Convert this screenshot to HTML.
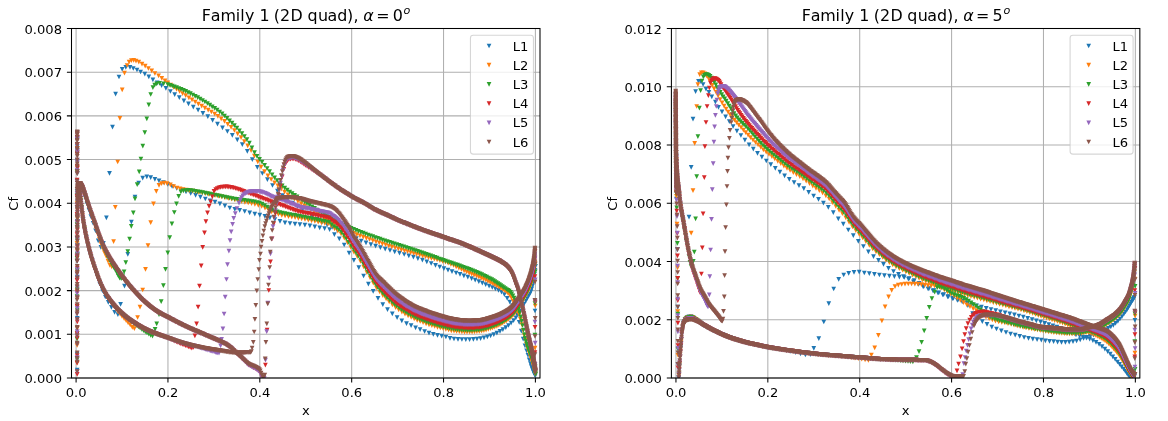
<!DOCTYPE html>
<html lang="en"><head><meta charset="utf-8"><title>Family 1 (2D quad) Cf</title>
<style>html,body{margin:0;padding:0;background:#fff}svg{display:block}text{font-family:'DejaVu Sans','Liberation Sans',sans-serif;fill:#000}</style></head><body>
<svg width="1168" height="421" viewBox="0 0 1168 421">
<rect width="1168" height="421" fill="#fff"/>
<defs>
<marker id="m0" markerUnits="userSpaceOnUse" markerWidth="8" markerHeight="8" refX="4" refY="4" viewBox="0 0 8 8" orient="0" overflow="visible"><path d="M1.65 1.65H6.35L4 6.35Z" fill="#1f77b4"/></marker>
<marker id="m1" markerUnits="userSpaceOnUse" markerWidth="8" markerHeight="8" refX="4" refY="4" viewBox="0 0 8 8" orient="0" overflow="visible"><path d="M1.65 1.65H6.35L4 6.35Z" fill="#ff7f0e"/></marker>
<marker id="m2" markerUnits="userSpaceOnUse" markerWidth="8" markerHeight="8" refX="4" refY="4" viewBox="0 0 8 8" orient="0" overflow="visible"><path d="M1.65 1.65H6.35L4 6.35Z" fill="#2ca02c"/></marker>
<marker id="m3" markerUnits="userSpaceOnUse" markerWidth="8" markerHeight="8" refX="4" refY="4" viewBox="0 0 8 8" orient="0" overflow="visible"><path d="M1.65 1.65H6.35L4 6.35Z" fill="#d62728"/></marker>
<marker id="m4" markerUnits="userSpaceOnUse" markerWidth="8" markerHeight="8" refX="4" refY="4" viewBox="0 0 8 8" orient="0" overflow="visible"><path d="M1.65 1.65H6.35L4 6.35Z" fill="#9467bd"/></marker>
<marker id="m5" markerUnits="userSpaceOnUse" markerWidth="8" markerHeight="8" refX="4" refY="4" viewBox="0 0 8 8" orient="0" overflow="visible"><path d="M1.65 1.65H6.35L4 6.35Z" fill="#8c564b"/></marker>
<clipPath id="c0"><rect x="71.50" y="28.50" width="468.50" height="349.50"/></clipPath>
<clipPath id="c1"><rect x="671.40" y="28.50" width="468.45" height="349.50"/></clipPath>
</defs>
<path stroke="#b0b0b0" stroke-width="1.05" fill="none" d="M76.09 28.50V378.00M167.95 28.50V378.00M259.81 28.50V378.00M351.68 28.50V378.00M443.54 28.50V378.00M535.40 28.50V378.00M71.50 378.00H540.00M71.50 334.31H540.00M71.50 290.62H540.00M71.50 246.94H540.00M71.50 203.25H540.00M71.50 159.56H540.00M71.50 115.88H540.00M71.50 72.19H540.00M71.50 28.50H540.00"/>
<g clip-path="url(#c0)" fill="none" stroke="none">
<polyline points="77.1,354.1 77.1,261.2 77.1,191.3 77.2,146.5 77.2,138.7 77.3,161.6 77.6,183.4 78.2,183.4 78.9,183.6 79.8,184.0 80.9,185.7 82.2,188.5 83.7,192.8 85.3,198.0 87.0,203.9 88.9,210.1 90.9,216.6 93.2,223.4 95.6,230.8 98.2,240.8 100.9,247.4 103.4,243.3 106.4,217.9 109.5,173.4 112.5,127.1 115.6,94.1 119.0,77.0 122.2,69.4 125.8,67.4 130.0,67.4 133.3,68.5 137.0,70.0 140.6,72.0 144.8,74.2 148.8,76.8 152.9,79.9 157.2,82.9 161.6,85.6 165.9,88.4 170.4,91.5 174.7,94.7 179.3,97.6 183.9,100.8 188.5,103.9 193.3,107.2 198.1,110.2 202.9,113.3 207.8,116.6 212.6,120.4 217.5,124.1 222.5,127.8 227.4,131.5 232.3,135.4 237.3,139.9 242.3,144.6 247.3,151.3 252.3,159.6 257.3,167.3 262.4,173.5 267.4,179.6 272.5,185.5 277.5,191.1 282.5,195.6 287.5,199.5 292.5,203.1 297.5,206.4 302.5,209.7 307.4,213.0 312.4,216.2 317.3,219.3 322.2,222.2 327.2,225.0 332.1,227.5 336.9,229.7 341.8,231.9 346.7,234.0 351.5,236.2 356.4,238.7 361.2,241.0 366.0,242.9 370.9,244.6 375.6,246.2 380.4,247.7 385.2,249.2 390.0,250.5 394.7,251.9 399.5,253.2 404.2,254.5 408.8,255.9 413.4,257.2 417.9,258.7 422.4,260.2 426.8,261.8 431.2,263.5 435.5,265.3 439.7,267.0 443.9,268.7 448.0,270.2 452.0,271.6 456.1,273.0 460.0,274.4 463.9,275.8 467.8,277.2 471.6,278.7 475.2,280.2 478.8,281.7 482.3,283.1 485.7,284.6 489.1,286.1 492.3,287.5 495.4,288.9 498.5,290.4 501.5,292.2 504.4,294.6 507.2,298.4 509.8,302.1 512.4,305.8 514.8,309.6 517.0,314.4 519.2,322.4 521.3,331.1 523.2,339.1 525.0,345.8 526.6,350.8 528.0,355.4 529.2,359.8 530.4,363.6 531.3,366.6 532.2,368.9 533.0,370.9 533.7,372.6 534.3,373.9 534.8,375.0 535.3,375.9 77.2,370.0 77.3,318.3 77.3,277.1 77.4,245.2 77.5,221.3 77.5,204.4 77.7,193.2 77.9,186.5 78.4,184.3 78.5,183.5 78.6,183.4 79.4,186.3 80.4,194.2 81.6,208.4 83.0,220.1 84.6,229.5 86.2,237.9 88.0,245.8 90.0,253.5 92.2,260.9 94.5,268.2 97.1,276.1 99.7,284.0 102.5,290.9 105.3,297.0 108.3,302.3 111.4,307.3 114.6,312.3 117.9,314.6 120.6,304.4 124.5,286.1 127.8,254.4 131.4,222.1 135.0,197.0 138.7,183.2 142.7,178.2 146.8,176.9 150.7,177.7 154.9,179.3 159.0,180.8 163.4,182.5 167.8,184.3 172.1,186.5 176.7,188.4 181.3,190.1 186.0,191.8 190.7,193.5 195.6,195.3 200.4,197.2 205.3,199.0 210.1,200.8 215.0,202.1 219.9,203.9 224.9,205.9 229.8,208.0 234.8,209.3 239.7,210.4 244.7,211.5 249.7,212.8 254.8,214.1 259.8,215.1 264.9,216.4 269.9,217.9 274.9,219.5 280.0,221.4 285.0,222.8 290.0,223.5 295.0,224.1 299.9,224.7 304.9,225.2 309.9,225.9 314.8,226.8 319.7,227.8 324.6,228.6 329.6,229.7 334.4,234.7 339.3,238.9 344.2,245.0 349.1,253.1 353.9,260.3 358.8,267.6 363.6,276.0 368.4,284.1 373.2,291.4 378.0,298.4 382.8,304.6 387.5,309.6 392.3,313.9 397.1,317.7 401.8,320.9 406.5,323.6 411.1,325.7 415.6,327.8 420.1,329.7 424.6,331.5 429.0,333.1 433.3,334.3 437.5,335.4 441.7,336.2 445.9,337.0 450.0,338.3 454.0,339.0 458.0,339.3 461.9,339.5 465.8,339.6 469.6,339.6 473.4,339.4 477.0,339.0 480.6,338.6 484.0,337.9 487.4,336.9 490.6,335.9 493.8,334.6 496.9,333.1 500.0,331.4 502.9,329.6 505.8,327.6 508.5,325.5 511.1,323.2 513.6,320.7 515.9,317.8 518.1,314.6 520.2,311.2 522.3,307.4 524.1,304.0 525.8,301.1 527.3,298.5 528.6,296.2 529.8,294.0 530.9,291.7 531.8,288.9 532.6,285.8 533.3,282.4 534.0,278.5 534.5,274.4 535.0,270.3 535.5,266.3 534.9,374.3 535.0,311.0" marker-start="url(#m0)" marker-mid="url(#m0)" marker-end="url(#m0)"/>
<polyline points="77.1,345.5 77.1,290.7 77.1,243.3 77.1,203.5 77.1,171.7 77.2,148.4 77.2,134.6 77.2,144.6 77.4,167.6 77.8,183.4 78.1,183.4 78.6,183.4 79.1,183.4 79.7,183.5 80.5,184.2 81.3,185.6 82.2,187.3 83.2,189.7 84.2,192.7 85.2,195.9 86.3,199.4 87.5,203.2 88.8,206.9 90.1,210.9 91.5,215.1 92.9,219.6 94.4,224.2 96.0,229.1 97.7,234.2 99.3,239.2 101.0,244.0 102.8,248.6 104.5,252.8 106.3,256.7 108.1,261.3 109.9,265.4 111.8,266.8 113.6,241.7 115.3,207.4 117.7,162.0 119.9,118.3 122.2,89.9 124.5,73.1 127.1,65.5 129.1,62.0 131.4,60.7 133.7,60.4 136.0,61.1 138.8,62.2 142.0,64.1 145.2,66.1 148.4,68.5 151.7,70.9 154.9,73.5 158.6,75.9 161.8,78.3 165.0,80.8 167.8,82.9 170.7,85.2 173.6,87.3 176.6,89.4 179.6,91.5 182.6,93.6 185.7,95.7 188.9,97.8 192.0,99.9 195.2,102.0 198.4,104.1 201.7,106.2 204.9,108.2 208.2,110.1 211.4,112.0 214.7,114.1 217.9,116.3 221.2,118.8 224.5,121.4 227.8,124.3 231.1,127.3 234.4,130.5 237.7,133.9 241.1,137.6 244.4,141.6 247.7,145.9 251.1,150.6 254.4,156.2 257.8,162.0 261.1,167.1 264.5,171.7 267.9,175.8 271.2,179.5 274.6,182.8 277.9,185.9 281.3,189.1 284.6,192.1 288.0,194.8 291.3,197.1 294.6,199.2 297.9,201.4 301.2,203.6 304.5,205.8 307.8,207.9 311.1,210.0 314.4,212.1 317.7,214.1 321.0,216.1 324.3,218.0 327.6,219.9 330.8,221.7 334.1,223.6 337.3,225.4 340.6,227.1 343.8,228.8 347.1,230.4 350.3,231.9 353.5,233.3 356.8,234.6 360.0,235.9 363.2,237.2 366.4,238.4 369.6,239.5 372.8,240.7 376.0,241.8 379.2,242.9 382.4,243.9 385.6,244.9 388.8,246.0 391.9,246.9 395.1,247.9 398.3,248.9 401.4,249.8 404.5,250.8 407.6,251.7 410.7,252.6 413.7,253.5 416.7,254.3 419.7,255.2 422.7,256.1 425.6,256.9 428.5,257.7 431.4,258.5 434.3,259.2 437.1,259.9 439.9,260.6 442.7,261.4 445.5,262.2 448.2,263.2 450.9,264.3 453.6,265.5 456.2,266.8 458.9,268.2 461.5,269.5 464.1,270.8 466.7,272.0 469.2,273.2 471.7,274.2 474.1,275.2 476.6,276.1 478.9,277.1 481.3,278.1 483.5,279.2 485.8,280.2 488.0,281.3 490.2,282.4 492.3,283.5 494.4,284.6 496.5,285.8 498.5,286.9 500.5,288.1 502.4,289.2 504.3,290.3 506.2,291.7 508.0,293.4 509.8,295.4 511.5,297.9 513.1,301.0 514.7,304.3 516.2,307.7 517.7,311.1 519.1,314.9 520.5,319.3 521.8,324.7 523.1,330.5 524.3,335.5 525.4,340.2 526.4,344.3 527.4,347.6 528.2,350.2 529.1,352.6 529.8,354.7 530.5,356.8 531.2,358.7 531.8,360.5 532.3,362.3 532.8,363.9 533.3,365.6 533.7,367.2 534.1,368.7 534.5,370.2 534.8,371.7 535.1,373.0 535.4,374.3 77.2,363.0 77.3,328.3 77.3,298.3 77.3,272.7 77.4,251.2 77.4,233.4 77.5,218.9 77.5,207.4 77.6,198.6 77.8,192.2 77.8,187.6 78.1,185.3 78.4,184.1 78.5,183.6 78.6,183.4 78.7,183.7 79.3,185.8 79.9,189.9 80.7,198.3 81.5,207.5 82.5,215.5 83.4,222.6 84.4,228.7 85.5,234.4 86.6,239.8 87.8,244.9 89.1,250.1 90.4,255.1 91.8,259.9 93.3,264.6 94.9,269.2 96.5,273.9 98.1,278.4 99.8,282.7 101.5,286.7 103.2,290.3 105.0,293.5 106.8,296.3 108.6,298.8 110.4,301.3 112.3,304.0 114.2,306.7 116.1,309.3 118.1,311.8 120.1,314.1 122.0,316.4 124.1,318.7 126.1,320.7 128.1,322.8 130.2,324.9 132.3,327.3 134.4,328.6 137.6,317.5 140.0,307.1 142.7,290.0 145.5,269.3 148.0,245.7 150.7,222.7 153.5,203.9 156.3,191.3 159.0,185.4 161.6,183.6 164.3,183.2 167.1,183.6 170.4,184.9 173.6,186.5 177.0,188.0 180.0,188.9 183.1,189.5 186.2,190.1 189.3,190.7 192.5,191.2 195.7,191.8 198.9,192.4 202.2,193.0 205.4,193.6 208.6,194.2 211.9,194.8 215.2,195.5 218.4,196.2 221.7,196.9 225.0,197.7 228.3,198.4 231.6,199.2 234.9,200.0 238.2,200.7 241.6,201.5 244.9,202.3 248.2,203.0 251.6,203.7 254.9,204.4 258.3,205.3 261.7,206.4 265.0,208.1 268.4,210.0 271.7,211.9 275.1,213.4 278.4,214.5 281.8,215.3 285.1,216.0 288.5,216.6 291.8,217.2 295.1,217.7 298.4,218.3 301.7,218.9 305.0,219.5 308.3,220.1 311.6,220.8 314.9,221.4 318.2,222.1 321.5,222.8 324.8,223.3 328.0,224.0 331.3,226.2 334.6,228.9 337.8,231.1 341.1,234.0 344.3,238.1 347.6,242.9 350.8,247.5 354.0,252.3 357.3,256.6 360.5,261.5 363.7,267.0 366.9,272.7 370.1,277.9 373.3,283.1 376.5,288.0 379.7,292.0 382.9,295.6 386.1,298.9 389.2,302.0 392.4,304.9 395.6,307.6 398.7,309.9 401.9,312.1 405.0,314.1 408.1,315.8 411.2,317.4 414.2,318.9 417.2,320.3 420.2,321.5 423.1,322.7 426.1,323.8 429.0,324.8 431.9,325.7 434.7,326.5 437.5,327.3 440.3,328.0 443.1,328.7 445.9,329.3 448.6,330.0 451.3,330.8 454.0,331.2 456.6,331.5 459.3,331.7 461.9,331.9 464.5,332.1 467.0,332.2 469.6,332.2 472.1,332.1 474.5,331.9 476.9,331.7 479.3,331.5 481.6,331.2 483.9,330.7 486.1,330.1 488.3,329.4 490.5,328.7 492.6,328.0 494.7,327.2 496.8,326.3 498.8,325.3 500.8,324.3 502.7,323.2 504.6,322.0 506.5,320.8 508.3,319.5 510.0,318.1 511.7,316.6 513.3,315.0 514.9,313.1 516.4,311.0 517.9,308.8 519.3,306.7 520.7,304.5 522.0,302.3 523.3,300.0 524.4,298.0 525.5,296.0 526.6,294.1 527.5,292.3 528.4,290.4 529.2,288.7 529.9,287.0 530.6,285.2 531.3,283.3 531.8,281.3 532.4,279.2 532.9,277.1 533.4,274.7 533.8,272.0 534.2,269.1 534.5,266.1 534.9,263.1 535.0,348.2 535.2,306.0 534.9,263.8" marker-start="url(#m1)" marker-mid="url(#m1)" marker-end="url(#m1)"/>
<polyline points="77.1,339.1 77.1,296.5 77.1,258.3 77.1,224.7 77.1,195.7 77.1,171.7 77.2,152.8 77.2,139.5 77.2,132.5 77.3,150.6 77.4,173.5 77.8,183.4 78.1,183.4 78.4,183.4 78.8,183.4 79.2,183.4 79.7,183.5 80.3,183.9 80.9,184.9 81.5,186.0 82.2,187.3 82.9,189.1 83.7,191.2 84.4,193.6 85.2,196.0 86.1,198.6 87.0,201.5 87.9,204.3 88.8,207.1 89.8,210.0 90.8,212.9 91.9,215.8 93.0,218.9 94.2,222.2 95.4,225.6 96.6,229.0 97.8,232.5 99.1,236.0 100.3,239.5 101.6,243.1 102.9,246.5 104.2,249.6 105.6,252.4 106.9,255.1 108.3,257.8 109.7,260.4 111.1,262.9 112.5,265.3 113.9,267.6 115.3,270.0 116.8,272.9 118.3,275.9 119.7,278.1 121.2,278.6 122.7,275.9 124.1,271.9 125.8,262.7 127.8,251.6 129.6,239.1 131.3,226.4 133.3,212.9 135.0,198.9 137.2,184.7 139.2,171.8 140.9,159.0 142.8,146.1 144.8,132.7 146.8,118.8 148.8,104.8 150.7,94.5 152.9,87.7 154.7,85.1 156.7,83.8 159.5,83.4 163.6,83.8 167.8,84.7 170.0,85.3 172.2,86.0 174.3,86.8 176.6,87.6 178.8,88.5 181.1,89.4 183.4,90.4 185.7,91.4 188.1,92.6 190.4,93.7 192.8,95.0 195.2,96.3 197.7,97.7 200.1,99.1 202.5,100.5 204.9,102.0 207.4,103.5 209.8,105.1 212.2,106.8 214.7,108.4 217.1,110.2 219.6,112.0 222.1,113.9 224.5,116.0 227.0,118.3 229.5,120.8 232.0,123.2 234.4,125.7 236.9,128.2 239.4,130.8 241.9,133.6 244.4,136.5 246.9,139.6 249.4,143.2 251.9,147.9 254.5,152.6 257.0,156.3 259.5,159.3 262.0,162.2 264.6,165.3 267.1,168.5 269.6,171.7 272.1,174.8 274.6,177.8 277.1,180.7 279.6,183.5 282.2,185.9 284.7,188.2 287.2,190.2 289.7,192.1 292.1,193.7 294.6,195.3 297.1,196.9 299.6,198.6 302.1,200.3 304.6,202.0 307.0,203.6 309.5,205.2 312.0,206.8 314.5,208.4 316.9,210.0 319.4,211.5 321.8,213.1 324.3,214.5 326.8,216.0 329.2,217.3 331.7,218.7 334.1,220.0 336.5,221.3 339.0,222.6 341.4,223.8 343.9,225.0 346.3,226.2 348.7,227.3 351.1,228.4 353.6,229.4 356.0,230.4 358.4,231.4 360.8,232.3 363.2,233.2 365.6,234.1 368.0,235.0 370.4,235.9 372.8,236.7 375.2,237.6 377.6,238.4 380.0,239.2 382.4,240.0 384.8,240.8 387.2,241.6 389.6,242.3 391.9,243.1 394.3,243.9 396.7,244.6 399.0,245.4 401.4,246.1 403.7,246.9 406.1,247.6 408.4,248.3 410.7,249.1 413.0,249.8 415.2,250.6 417.5,251.3 419.7,252.1 421.9,252.8 424.1,253.6 426.3,254.4 428.5,255.1 430.7,255.9 432.8,256.7 435.0,257.4 437.1,258.2 439.2,259.0 441.3,259.7 443.4,260.4 445.4,261.1 447.5,261.8 449.5,262.5 451.5,263.2 453.5,263.8 455.5,264.5 457.5,265.2 459.5,265.9 461.4,266.6 463.4,267.3 465.3,268.0 467.2,268.7 469.1,269.4 471.0,270.1 472.8,270.9 474.7,271.6 476.5,272.3 478.3,273.1 480.0,273.9 481.7,274.6 483.5,275.5 485.1,276.3 486.8,277.1 488.5,278.0 490.1,278.8 491.7,279.7 493.3,280.7 494.8,281.7 496.3,282.6 497.9,283.6 499.4,284.6 500.8,285.6 502.3,286.6 503.7,287.6 505.2,288.5 506.5,289.5 507.9,290.3 509.2,291.2 510.5,292.4 511.7,293.9 512.9,295.8 514.1,298.1 515.3,300.6 516.4,303.3 517.5,306.3 518.6,309.4 519.6,312.8 520.7,316.8 521.7,321.2 522.6,325.5 523.5,330.1 524.4,334.6 525.2,338.4 526.0,341.4 526.7,343.9 527.4,346.1 528.1,348.1 528.7,349.9 529.3,351.5 529.9,352.9 530.4,354.1 530.9,355.3 531.3,356.5 531.8,357.8 532.2,359.1 532.6,360.5 532.9,361.9 533.3,363.2 533.6,364.6 533.9,366.0 534.2,367.3 534.5,368.6 534.7,369.8 535.0,371.0 535.2,372.1 535.4,373.2 535.6,374.2 77.2,359.6 77.2,333.5 77.3,310.0 77.3,289.1 77.3,270.6 77.4,254.3 77.4,240.2 77.4,228.1 77.5,217.7 77.5,209.1 77.6,201.9 77.7,196.2 77.8,191.7 77.8,188.2 78.0,186.0 78.3,184.8 78.4,184.0 78.5,183.6 78.5,183.5 78.6,183.4 78.8,183.9 79.2,185.6 79.7,188.4 80.3,192.9 80.9,200.6 81.5,207.2 82.2,213.4 82.9,219.1 83.7,224.1 84.4,228.7 85.2,233.0 86.1,237.2 86.9,241.1 87.9,245.0 88.8,248.9 89.8,252.7 90.8,256.4 91.9,260.0 93.0,263.6 94.1,267.1 95.3,270.6 96.6,274.1 97.8,277.5 99.0,280.8 100.3,284.0 101.6,286.9 102.9,289.7 104.2,292.1 105.5,294.4 106.9,296.6 108.2,298.6 109.6,300.5 111.0,302.3 112.4,304.0 113.8,305.7 115.3,307.3 116.7,308.9 118.2,310.4 119.7,311.9 121.2,313.3 122.7,314.6 124.2,315.9 125.7,317.2 127.3,318.3 128.8,319.4 130.4,320.6 131.9,321.9 133.5,323.2 135.1,324.5 136.8,325.7 138.4,327.0 140.1,328.2 141.8,329.4 143.5,330.6 145.3,331.8 147.0,332.9 148.8,334.1 150.7,335.4 152.5,336.2 155.1,329.3 156.7,323.9 159.0,314.7 161.2,301.6 163.4,285.6 165.5,269.3 167.8,252.9 169.7,237.6 171.9,223.8 174.3,212.5 176.5,203.9 178.7,196.3 180.9,191.9 183.4,190.8 185.8,190.5 188.1,190.4 190.5,190.6 192.9,190.9 195.3,191.3 197.7,191.8 200.1,192.2 202.5,192.7 205.0,193.2 207.4,193.7 209.8,194.1 212.3,194.6 214.7,195.1 217.2,195.6 219.6,196.1 222.1,196.6 224.6,197.1 227.0,197.6 229.5,198.1 232.0,198.6 234.5,199.1 237.0,199.4 239.5,199.8 242.0,200.1 244.4,200.4 247.0,200.8 249.5,201.1 252.0,201.5 254.5,201.9 257.0,202.5 259.5,203.2 262.1,204.2 264.6,205.6 267.1,207.0 269.6,208.5 272.1,209.9 274.7,211.1 277.2,211.9 279.7,212.6 282.2,213.2 284.7,213.7 287.2,214.2 289.7,214.6 292.2,215.0 294.7,215.4 297.2,215.9 299.6,216.3 302.1,216.8 304.6,217.3 307.1,217.9 309.6,218.4 312.0,218.8 314.5,219.4 317.0,219.9 319.4,220.4 321.9,220.9 324.3,221.3 326.8,221.8 329.2,222.4 331.7,224.6 334.1,226.5 336.6,228.0 339.0,230.0 341.5,232.3 343.9,235.3 346.3,238.9 348.7,242.3 351.2,245.9 353.6,249.5 356.0,252.8 358.4,256.1 360.8,259.8 363.3,264.0 365.7,268.3 368.1,272.4 370.5,276.4 372.9,280.3 375.3,284.1 377.7,287.4 380.1,290.3 382.4,292.9 384.8,295.4 387.2,297.8 389.6,300.1 392.0,302.2 394.3,304.3 396.7,306.2 399.1,308.0 401.4,309.6 403.8,311.1 406.1,312.5 408.4,313.8 410.7,315.0 413.0,316.2 415.3,317.3 417.5,318.3 419.8,319.3 422.0,320.1 424.2,321.0 426.4,321.8 428.5,322.6 430.7,323.3 432.9,324.0 435.0,324.6 437.1,325.2 439.2,325.8 441.3,326.3 443.4,326.8 445.4,327.3 447.5,327.8 449.5,328.4 451.6,328.9 453.6,329.2 455.6,329.5 457.5,329.7 459.5,329.9 461.5,330.0 463.4,330.1 465.3,330.2 467.3,330.3 469.2,330.3 471.0,330.3 472.9,330.2 474.7,330.1 476.5,329.9 478.3,329.8 480.0,329.6 481.8,329.3 483.5,329.0 485.2,328.6 486.8,328.1 488.5,327.6 490.1,327.1 491.7,326.6 493.3,326.0 494.8,325.4 496.4,324.7 497.9,324.0 499.4,323.3 500.9,322.6 502.3,321.8 503.8,321.0 505.2,320.1 506.6,319.2 507.9,318.2 509.2,317.2 510.5,316.2 511.8,315.1 513.0,313.9 514.2,312.5 515.3,311.0 516.4,309.4 517.5,307.8 518.6,306.2 519.7,304.7 520.7,303.1 521.7,301.4 522.6,299.8 523.6,298.2 524.4,296.7 525.2,295.2 526.0,293.7 526.8,292.3 527.5,290.9 528.1,289.4 528.7,288.1 529.3,286.8 529.9,285.4 530.4,284.0 530.9,282.6 531.3,281.1 531.8,279.6 532.2,278.1 532.6,276.6 533.0,274.9 533.3,273.1 533.6,271.2 533.9,269.0 534.2,266.8 534.5,264.5 534.7,262.2 535.2,366.9 534.9,335.2 535.0,303.5 535.2,271.8" marker-start="url(#m2)" marker-mid="url(#m2)" marker-end="url(#m2)"/>
<polyline points="77.1,363.1 77.1,333.7 77.1,306.2 77.1,280.4 77.1,256.5 77.1,234.5 77.1,214.4 77.1,196.3 77.1,180.2 77.2,166.2 77.2,154.3 77.2,144.8 77.2,137.6 77.2,133.2 77.2,137.6 77.3,152.9 77.4,168.2 77.8,183.4 78.0,183.4 78.2,183.4 78.5,183.4 78.7,183.4 79.0,183.4 79.3,183.4 79.6,183.4 80.0,183.6 80.3,184.0 80.8,184.6 81.2,185.4 81.6,186.2 82.1,187.1 82.6,188.1 83.0,189.4 83.5,190.8 84.1,192.4 84.6,194.0 85.1,195.6 85.7,197.3 86.2,199.1 86.8,201.0 87.4,203.0 88.1,204.9 88.7,206.8 89.3,208.7 90.0,210.6 90.7,212.6 91.4,214.6 92.1,216.6 92.9,218.7 93.7,220.8 94.4,222.9 95.3,225.2 96.1,227.5 96.9,229.8 97.7,232.1 98.5,234.5 99.4,236.8 100.2,239.1 101.1,241.3 101.9,243.5 102.8,245.6 103.7,247.5 104.6,249.3 105.5,251.1 106.4,252.8 107.3,254.4 108.2,256.1 109.1,257.6 110.0,259.2 110.9,260.7 111.9,262.1 112.8,263.6 113.8,265.1 114.7,266.5 115.7,267.9 116.7,269.3 117.7,270.8 118.7,272.2 119.6,273.5 120.6,274.9 121.6,276.3 122.6,277.6 123.6,278.9 124.7,280.2 125.7,281.5 126.7,282.8 127.7,284.1 128.8,285.4 129.8,286.6 130.8,287.9 131.9,289.1 133.0,290.3 134.0,291.5 135.1,292.7 136.2,293.9 137.3,295.1 138.4,296.2 139.5,297.4 140.6,298.5 141.8,299.6 142.9,300.7 144.1,301.8 145.2,302.8 146.4,303.9 147.6,304.9 148.8,305.8 150.1,306.8 151.3,307.8 152.5,308.7 153.8,309.6 155.1,310.5 156.3,311.3 157.6,312.1 159.0,312.9 160.3,313.7 161.6,314.4 163.0,315.1 164.3,315.8 165.7,316.5 167.1,317.2 168.5,317.9 170.0,318.7 171.4,319.5 172.9,320.2 174.3,321.0 175.8,321.8 177.3,322.5 178.8,323.3 180.3,324.0 181.8,324.8 183.4,325.5 184.9,326.3 186.5,327.0 188.1,327.8 189.6,328.5 191.2,329.2 192.8,329.9 194.4,330.6 196.0,331.2 197.7,331.9 199.3,332.6 200.9,333.3 202.5,334.0 204.1,334.7 205.7,335.4 207.4,336.1 209.0,336.8 210.6,337.5 212.3,338.2 213.9,338.9 215.5,339.6 217.2,340.3 218.8,340.9 220.4,341.7 222.1,342.4 223.7,343.3 225.4,344.2 227.0,345.2 228.7,346.3 230.3,347.5 232.0,349.0 233.6,350.6 235.3,352.2 236.9,353.7 238.6,355.3 240.3,356.8 241.9,358.5 243.6,360.2 245.3,362.0 246.9,363.5 248.6,365.0 250.3,366.0 252.0,366.9 253.6,367.8 255.3,368.7 257.0,369.7 258.7,371.0 260.4,373.5 262.0,377.9 263.7,379.5 265.4,365.1 267.1,330.1 268.8,290.5 270.5,261.8 272.1,238.9 273.8,223.6 275.5,213.3 277.2,204.2 278.8,195.3 280.5,186.1 282.2,176.9 283.8,169.4 285.5,164.0 287.2,160.8 288.8,159.6 290.5,159.2 292.2,159.0 293.8,159.0 295.5,159.5 297.1,160.2 298.8,160.9 300.5,162.0 302.1,163.1 303.8,164.2 305.4,165.3 307.1,166.3 308.7,167.4 310.4,168.5 312.0,169.6 313.6,170.7 315.3,171.8 316.9,172.9 318.6,174.0 320.2,175.2 321.9,176.4 323.5,177.6 325.1,178.9 326.8,180.1 328.4,181.4 330.0,182.6 331.7,183.8 333.3,185.0 334.9,186.1 336.5,187.3 338.2,188.4 339.8,189.5 341.4,190.6 343.0,191.6 344.7,192.7 346.3,193.7 347.9,194.7 349.5,195.7 351.1,196.6 352.8,197.5 354.4,198.4 356.0,199.3 357.6,200.1 359.2,200.9 360.8,201.8 362.4,202.6 364.0,203.5 365.6,204.4 367.2,205.4 368.8,206.4 370.4,207.4 372.0,208.3 373.6,209.3 375.2,210.1 376.8,210.9 378.4,211.7 380.0,212.4 381.6,213.1 383.2,213.8 384.8,214.5 386.4,215.2 388.0,215.9 389.6,216.7 391.1,217.4 392.7,218.2 394.3,218.9 395.9,219.6 397.5,220.3 399.0,221.0 400.6,221.6 402.2,222.3 403.7,222.9 405.3,223.5 406.8,224.1 408.4,224.7 409.9,225.3 411.4,226.0 412.9,226.6 414.5,227.2 416.0,227.8 417.5,228.3 418.9,228.9 420.4,229.5 421.9,230.0 423.4,230.5 424.8,231.0 426.3,231.5 427.8,232.1 429.2,232.6 430.6,233.1 432.1,233.6 433.5,234.0 434.9,234.5 436.3,235.0 437.7,235.5 439.1,236.0 440.5,236.4 441.9,236.9 443.3,237.4 444.7,237.9 446.0,238.4 447.4,238.9 448.8,239.3 450.1,239.8 451.5,240.2 452.8,240.6 454.1,241.1 455.5,241.5 456.8,242.0 458.1,242.5 459.4,243.0 460.7,243.5 462.0,244.0 463.3,244.5 464.6,245.0 465.9,245.6 467.1,246.1 468.4,246.6 469.7,247.2 470.9,247.7 472.2,248.2 473.4,248.8 474.6,249.3 475.8,249.9 477.0,250.4 478.2,251.0 479.3,251.5 480.5,252.0 481.6,252.5 482.8,253.0 483.9,253.5 485.0,254.1 486.2,254.6 487.3,255.1 488.3,255.6 489.4,256.1 490.5,256.6 491.6,257.1 492.6,257.6 493.7,258.1 494.7,258.6 495.7,259.1 496.7,259.6 497.8,260.1 498.8,260.7 499.7,261.2 500.7,261.8 501.7,262.4 502.7,263.0 503.6,263.7 504.6,264.4 505.5,265.1 506.4,266.0 507.3,266.9 508.2,267.9 509.1,269.0 509.9,270.2 510.8,271.5 511.6,273.1 512.4,274.8 513.2,276.6 514.0,278.5 514.8,280.8 515.5,283.0 516.3,285.1 517.0,287.0 517.7,289.1 518.5,291.5 519.1,294.3 519.8,297.1 520.5,299.9 521.2,302.8 521.8,305.6 522.5,308.4 523.1,311.2 523.7,313.9 524.3,316.6 524.8,319.2 525.4,321.9 525.9,324.4 526.4,326.9 526.8,329.2 527.3,331.5 527.7,333.6 528.2,335.6 528.6,337.5 529.0,339.3 529.4,340.9 529.7,342.5 530.1,344.0 530.4,345.5 530.7,346.9 531.1,348.4 531.4,349.8 531.7,351.1 531.9,352.5 532.2,353.7 532.5,355.0 532.7,356.2 532.9,357.5 533.2,358.7 533.4,359.8 533.6,361.0 533.8,362.1 534.0,363.3 534.2,364.4 534.4,365.4 534.5,366.5 534.7,367.5 534.9,368.5 535.0,369.4 535.2,370.4 535.3,371.3 77.2,374.3 77.2,355.5 77.2,338.0 77.3,321.8 77.3,306.7 77.3,292.7 77.3,279.8 77.3,268.0 77.3,257.1 77.4,247.2 77.4,238.3 77.4,230.1 77.5,222.8 77.5,216.3 77.5,210.5 77.5,205.4 77.6,201.0 77.7,197.1 77.7,193.9 77.8,191.1 77.8,188.8 77.9,186.9 78.0,185.8 78.2,185.0 78.3,184.4 78.4,184.0 78.5,183.7 78.5,183.5 78.6,183.4 78.6,183.4 78.8,183.9 79.1,184.9 79.4,186.5 79.7,188.6 80.1,191.2 80.5,195.8 80.9,201.2 81.3,205.6 81.8,209.8 82.3,213.9 82.7,217.8 83.2,221.4 83.7,224.6 84.2,227.7 84.8,230.6 85.3,233.5 85.9,236.3 86.5,239.0 87.1,241.6 87.7,244.2 88.3,246.8 88.9,249.4 89.6,252.0 90.3,254.5 91.0,257.0 91.7,259.4 92.4,261.8 93.2,264.2 94.0,266.5 94.7,268.9 95.6,271.2 96.4,273.5 97.2,275.8 98.0,278.1 98.8,280.3 99.7,282.4 100.5,284.5 101.4,286.5 102.3,288.4 103.1,290.2 104.0,291.8 104.9,293.3 105.8,294.8 106.7,296.3 107.6,297.6 108.5,298.9 109.4,300.2 110.4,301.4 111.3,302.6 112.2,303.8 113.2,304.9 114.1,306.0 115.1,307.1 116.1,308.2 117.1,309.3 118.0,310.3 119.0,311.3 120.0,312.2 121.0,313.2 122.0,314.1 123.0,314.9 124.0,315.8 125.0,316.6 126.1,317.4 127.1,318.2 128.1,319.0 129.1,319.7 130.2,320.5 131.2,321.2 132.3,321.9 133.4,322.6 134.4,323.2 135.5,323.9 136.6,324.6 137.7,325.3 138.8,325.9 139.9,326.6 141.0,327.2 142.2,327.9 143.3,328.5 144.5,329.1 145.7,329.7 146.9,330.2 148.1,330.8 149.3,331.3 150.5,331.8 151.8,332.3 153.0,332.8 154.3,333.3 155.5,333.7 156.8,334.2 158.1,334.7 159.5,335.2 160.8,335.7 162.1,336.1 163.5,336.6 164.9,337.1 166.2,337.5 167.7,338.0 169.1,338.5 170.5,339.1 171.9,339.7 173.4,340.4 174.9,341.1 176.4,341.8 177.9,342.5 179.4,343.1 180.9,343.8 182.4,344.4 184.0,345.0 185.5,345.6 187.1,346.2 188.7,346.8 190.2,347.4 191.8,348.1 193.4,347.4 194.9,335.9 196.6,323.9 198.1,307.1 199.5,286.1 201.2,265.8 202.7,247.4 204.5,232.8 205.9,221.6 207.5,212.9 209.1,206.4 210.8,201.8 212.4,196.9 214.0,191.3 215.7,189.5 217.3,188.5 218.9,187.8 220.6,187.3 222.2,187.1 223.9,187.0 225.5,186.9 227.2,186.9 228.8,187.1 230.5,187.4 232.1,187.7 233.8,188.0 235.4,188.5 237.1,189.0 238.8,189.5 240.4,190.1 242.1,190.8 243.7,191.4 245.4,192.0 247.1,192.6 248.8,193.2 250.4,193.8 252.1,194.5 253.8,195.1 255.5,195.7 257.1,196.4 258.8,197.1 260.5,197.7 262.2,198.3 263.9,199.0 265.6,199.6 267.2,200.2 268.9,200.9 270.6,201.5 272.3,202.1 274.0,202.7 275.6,203.3 277.3,203.9 279.0,204.4 280.6,205.0 282.3,205.6 284.0,206.2 285.7,206.9 287.3,207.5 289.0,208.2 290.6,208.8 292.3,209.4 294.0,210.1 295.6,210.6 297.3,211.2 298.9,211.7 300.6,212.1 302.3,212.5 303.9,212.8 305.6,213.1 307.2,213.4 308.9,213.7 310.5,214.1 312.2,214.4 313.8,214.8 315.4,215.1 317.1,215.5 318.7,215.8 320.4,216.2 322.0,216.5 323.6,216.8 325.3,217.1 326.9,217.5 328.5,217.9 330.2,218.7 331.8,220.1 333.4,221.4 335.1,222.4 336.7,223.6 338.3,225.0 339.9,226.6 341.6,228.4 343.2,230.4 344.8,232.7 346.4,235.1 348.1,237.5 349.7,239.9 351.3,242.5 352.9,245.2 354.5,247.6 356.1,249.8 357.7,252.0 359.3,254.4 361.0,257.0 362.6,259.8 364.2,262.7 365.8,265.5 367.4,268.3 369.0,271.0 370.6,273.7 372.2,276.4 373.8,279.0 375.4,281.5 377.0,283.8 378.6,285.7 380.2,287.5 381.8,289.2 383.3,290.8 384.9,292.5 386.5,294.1 388.1,295.7 389.7,297.2 391.3,298.7 392.9,300.1 394.4,301.5 396.0,302.8 397.6,304.0 399.2,305.1 400.8,306.3 402.3,307.3 403.9,308.3 405.4,309.3 407.0,310.2 408.5,311.1 410.0,312.0 411.6,312.8 413.1,313.6 414.6,314.3 416.1,315.0 417.6,315.7 419.1,316.3 420.6,316.9 422.0,317.5 423.5,318.0 425.0,318.6 426.4,319.2 427.9,319.7 429.3,320.2 430.8,320.7 432.2,321.1 433.6,321.5 435.0,322.0 436.5,322.4 437.9,322.8 439.3,323.2 440.7,323.5 442.0,323.9 443.4,324.3 444.8,324.6 446.2,324.9 447.5,325.3 448.9,325.6 450.2,326.0 451.6,326.3 452.9,326.6 454.3,326.8 455.6,327.0 456.9,327.1 458.2,327.3 459.5,327.4 460.8,327.5 462.1,327.6 463.4,327.7 464.7,327.8 466.0,327.8 467.3,327.9 468.5,327.9 469.8,327.9 471.0,327.9 472.3,327.8 473.5,327.8 474.7,327.7 475.9,327.6 477.1,327.5 478.3,327.4 479.4,327.3 480.6,327.2 481.8,327.0 482.9,326.8 484.0,326.5 485.1,326.2 486.3,325.9 487.4,325.6 488.4,325.3 489.5,324.9 490.6,324.6 491.7,324.2 492.7,323.9 493.8,323.5 494.8,323.1 495.8,322.7 496.8,322.3 497.8,321.8 498.8,321.4 499.8,320.9 500.8,320.4 501.8,319.9 502.7,319.4 503.7,318.9 504.7,318.4 505.6,317.8 506.5,317.2 507.4,316.6 508.3,316.0 509.1,315.3 510.0,314.6 510.8,313.9 511.7,313.2 512.5,312.5 513.3,311.6 514.1,310.7 514.8,309.7 515.6,308.6 516.3,307.6 517.1,306.5 517.8,305.4 518.5,304.4 519.2,303.4 519.9,302.4 520.6,301.3 521.2,300.3 521.9,299.2 522.5,298.1 523.1,297.1 523.7,296.1 524.3,295.1 524.9,294.1 525.4,293.1 525.9,292.1 526.4,291.1 526.9,290.2 527.3,289.2 527.8,288.2 528.2,287.2 528.6,286.3 529.0,285.4 529.4,284.4 529.8,283.5 530.1,282.6 530.4,281.6 530.8,280.6 531.1,279.6 531.4,278.6 531.7,277.6 532.0,276.6 532.2,275.6 532.5,274.5 532.7,273.5 533.0,272.4 533.2,271.2 533.4,269.9 533.6,268.6 533.8,267.2 534.0,265.7 534.2,264.1 534.4,262.6 534.6,261.0 534.7,259.4 534.9,257.9 534.9,352.7 535.0,327.4 535.2,302.0 534.9,276.7 535.0,251.3" marker-start="url(#m3)" marker-mid="url(#m3)" marker-end="url(#m3)"/>
<polyline points="77.1,358.5 77.1,335.8 77.1,314.1 77.1,293.5 77.1,274.0 77.1,255.6 77.1,238.4 77.1,222.3 77.1,207.4 77.1,193.7 77.1,181.3 77.1,170.1 77.2,160.2 77.2,151.6 77.2,144.4 77.2,138.8 77.2,134.6 77.2,132.3 77.2,139.1 77.3,150.6 77.3,162.1 77.4,173.5 77.7,183.4 77.8,183.4 78.0,183.4 78.1,183.4 78.3,183.4 78.5,183.4 78.7,183.4 78.9,183.4 79.1,183.4 79.3,183.4 79.5,183.4 79.8,183.5 80.1,183.7 80.4,184.1 80.7,184.5 81.0,185.1 81.3,185.7 81.7,186.3 82.0,186.9 82.4,187.7 82.7,188.6 83.1,189.6 83.5,190.6 83.9,191.8 84.3,193.0 84.7,194.2 85.1,195.4 85.5,196.7 85.9,198.0 86.3,199.4 86.8,200.9 87.2,202.3 87.7,203.7 88.2,205.2 88.6,206.6 89.1,208.0 89.6,209.5 90.1,210.9 90.7,212.4 91.2,213.9 91.7,215.4 92.3,217.0 92.8,218.5 93.4,220.1 94.0,221.7 94.6,223.3 95.2,225.0 95.8,226.7 96.4,228.5 97.0,230.2 97.7,232.0 98.3,233.8 98.9,235.5 99.5,237.3 100.2,239.0 100.8,240.7 101.5,242.3 102.1,243.9 102.8,245.5 103.4,246.9 104.1,248.3 104.7,249.7 105.4,251.0 106.1,252.3 106.8,253.5 107.4,254.8 108.1,256.0 108.8,257.2 109.5,258.3 110.2,259.5 110.9,260.6 111.6,261.7 112.3,262.8 113.0,263.9 113.7,265.0 114.5,266.1 115.2,267.2 115.9,268.2 116.7,269.3 117.4,270.4 118.1,271.4 118.9,272.5 119.6,273.5 120.4,274.5 121.1,275.5 121.9,276.6 122.6,277.6 123.4,278.6 124.1,279.5 124.9,280.5 125.6,281.5 126.4,282.5 127.2,283.4 127.9,284.4 128.7,285.3 129.5,286.3 130.3,287.2 131.1,288.1 131.9,289.0 132.7,290.0 133.5,290.9 134.3,291.8 135.1,292.7 135.9,293.6 136.7,294.5 137.5,295.3 138.4,296.2 139.2,297.1 140.0,297.9 140.9,298.8 141.7,299.6 142.6,300.4 143.5,301.2 144.3,302.0 145.2,302.8 146.1,303.6 147.0,304.4 147.9,305.1 148.8,305.8 149.7,306.6 150.7,307.3 151.6,308.0 152.5,308.7 153.5,309.4 154.4,310.0 155.4,310.7 156.3,311.3 157.3,311.9 158.3,312.5 159.3,313.1 160.3,313.7 161.3,314.2 162.3,314.7 163.3,315.3 164.4,315.8 165.4,316.3 166.4,316.8 167.5,317.4 168.6,318.0 169.6,318.5 170.7,319.1 171.8,319.7 172.9,320.2 174.0,320.8 175.1,321.4 176.2,322.0 177.3,322.5 178.4,323.1 179.6,323.7 180.7,324.2 181.9,324.8 183.0,325.4 184.2,325.9 185.4,326.5 186.5,327.0 187.7,327.6 188.9,328.1 190.1,328.7 191.3,329.2 192.5,329.7 193.7,330.3 194.9,330.8 196.1,331.3 197.3,331.8 198.5,332.3 199.7,332.8 200.9,333.3 202.1,333.8 203.4,334.3 204.6,334.9 205.8,335.4 207.0,335.9 208.2,336.5 209.4,337.0 210.7,337.5 211.9,338.1 213.1,338.6 214.3,339.1 215.6,339.6 216.8,340.1 218.0,340.6 219.3,341.1 220.5,341.7 221.7,342.3 222.9,342.9 224.2,343.5 225.4,344.2 226.7,345.0 227.9,345.8 229.1,346.6 230.4,347.6 231.6,348.7 232.8,349.9 234.1,351.1 235.3,352.3 236.6,353.4 237.8,354.5 239.1,355.7 240.3,356.9 241.6,358.1 242.8,359.3 244.1,360.7 245.3,362.0 246.6,363.2 247.8,364.3 249.1,365.3 250.3,366.0 251.6,366.7 252.8,367.3 254.1,368.0 255.4,368.7 256.6,369.4 257.9,370.3 259.1,371.4 260.4,373.6 261.7,376.9 262.9,379.6 264.2,378.3 265.5,360.2 266.7,331.7 268.0,303.1 269.2,278.1 270.5,253.9 271.8,239.0 273.0,226.7 274.3,217.6 275.5,210.5 276.8,203.7 278.0,196.9 279.3,190.3 280.5,183.2 281.8,176.3 283.1,170.3 284.3,165.5 285.6,162.1 286.8,159.7 288.1,158.5 289.3,158.1 290.5,157.8 291.8,157.7 293.0,157.7 294.3,157.9 295.5,158.3 296.8,158.8 298.0,159.3 299.3,160.0 300.5,160.8 301.7,161.7 303.0,162.5 304.2,163.4 305.5,164.2 306.7,165.1 307.9,166.0 309.2,166.9 310.4,167.8 311.6,168.7 312.9,169.6 314.1,170.6 315.3,171.5 316.6,172.4 317.8,173.4 319.0,174.3 320.3,175.2 321.5,176.1 322.7,177.1 323.9,178.0 325.2,178.9 326.4,179.9 327.6,180.8 328.9,181.7 330.1,182.6 331.3,183.5 332.5,184.4 333.7,185.3 335.0,186.2 336.2,187.0 337.4,187.9 338.6,188.7 339.8,189.5 341.1,190.3 342.3,191.1 343.5,191.9 344.7,192.7 345.9,193.5 347.1,194.2 348.4,195.0 349.6,195.7 350.8,196.4 352.0,197.1 353.2,197.8 354.4,198.5 355.6,199.1 356.8,199.7 358.0,200.3 359.2,201.0 360.4,201.6 361.7,202.2 362.9,202.8 364.1,203.5 365.3,204.2 366.5,204.9 367.7,205.6 368.9,206.4 370.1,207.1 371.3,207.9 372.5,208.6 373.7,209.3 374.9,209.9 376.1,210.5 377.3,211.1 378.5,211.7 379.7,212.2 380.8,212.7 382.0,213.3 383.2,213.8 384.4,214.3 385.6,214.8 386.8,215.4 388.0,215.9 389.2,216.5 390.4,217.1 391.6,217.6 392.8,218.2 393.9,218.7 395.1,219.3 396.3,219.8 397.5,220.3 398.7,220.8 399.9,221.3 401.0,221.8 402.2,222.3 403.4,222.7 404.5,223.2 405.7,223.7 406.9,224.1 408.0,224.6 409.2,225.0 410.3,225.5 411.5,226.0 412.6,226.4 413.7,226.9 414.9,227.3 416.0,227.8 417.1,228.2 418.2,228.6 419.3,229.1 420.5,229.5 421.6,229.9 422.7,230.3 423.8,230.7 424.9,231.0 426.0,231.4 427.0,231.8 428.1,232.2 429.2,232.6 430.3,232.9 431.4,233.3 432.4,233.7 433.5,234.0 434.6,234.4 435.6,234.8 436.7,235.1 437.7,235.5 438.8,235.8 439.8,236.2 440.9,236.6 441.9,236.9 443.0,237.3 444.0,237.7 445.0,238.0 446.1,238.4 447.1,238.8 448.1,239.1 449.1,239.4 450.1,239.8 451.1,240.1 452.1,240.4 453.1,240.8 454.1,241.1 455.1,241.4 456.1,241.8 457.1,242.1 458.1,242.5 459.1,242.8 460.1,243.2 461.0,243.6 462.0,244.0 463.0,244.4 463.9,244.8 464.9,245.2 465.9,245.6 466.8,246.0 467.8,246.4 468.7,246.8 469.7,247.2 470.6,247.6 471.5,248.0 472.4,248.4 473.4,248.8 474.3,249.2 475.2,249.6 476.1,250.0 477.0,250.4 477.9,250.8 478.7,251.2 479.6,251.6 480.5,252.0 481.3,252.4 482.2,252.8 483.1,253.2 483.9,253.5 484.7,253.9 485.6,254.3 486.4,254.7 487.2,255.0 488.0,255.4 488.9,255.8 489.7,256.2 490.5,256.6 491.3,256.9 492.1,257.3 492.8,257.7 493.6,258.1 494.4,258.4 495.2,258.8 495.9,259.2 496.7,259.6 497.5,260.0 498.2,260.4 499.0,260.8 499.7,261.2 500.4,261.6 501.2,262.1 501.9,262.5 502.6,263.0 503.3,263.5 504.1,264.0 504.8,264.5 505.5,265.1 506.1,265.7 506.8,266.4 507.5,267.1 508.2,267.9 508.8,268.7 509.5,269.5 510.1,270.5 510.7,271.4 511.3,272.6 512.0,273.8 512.6,275.1 513.2,276.5 513.7,277.9 514.3,279.5 514.9,281.2 515.5,282.9 516.0,284.5 516.6,285.9 517.1,287.4 517.7,288.9 518.2,290.7 518.7,292.7 519.3,294.8 519.8,296.9 520.3,299.0 520.8,301.1 521.3,303.2 521.8,305.3 522.3,307.5 522.7,309.5 523.2,311.6 523.6,313.6 524.1,315.6 524.5,317.6 524.9,319.6 525.3,321.6 525.7,323.5 526.1,325.4 526.4,327.2 526.8,328.9 527.1,330.6 527.5,332.2 527.8,333.8 528.1,335.3 528.4,336.7 528.7,338.1 529.0,339.4 529.3,340.7 529.6,341.9 529.8,343.0 530.1,344.1 530.4,345.2 530.6,346.3 530.8,347.4 531.1,348.5 531.3,349.5 531.5,350.5 531.7,351.5 531.9,352.5 532.2,353.5 532.3,354.4 532.5,355.4 532.7,356.3 532.9,357.2 533.1,358.1 533.2,359.0 533.4,359.9 533.6,360.7 533.7,361.6 533.9,362.4 534.0,363.3 534.1,364.1 534.3,364.9 534.4,365.7 534.5,366.5 534.7,367.2 534.8,368.0 534.9,368.7 535.0,369.4 535.1,370.1 535.2,370.8 535.3,371.5 77.2,371.6 77.2,357.6 77.2,344.2 77.2,331.6 77.3,319.6 77.3,308.3 77.3,297.7 77.3,287.6 77.3,278.1 77.3,269.3 77.3,261.0 77.4,253.2 77.4,246.0 77.4,239.2 77.4,233.0 77.4,227.2 77.5,221.9 77.5,217.0 77.5,212.5 77.5,208.5 77.5,204.8 77.6,201.4 77.6,198.5 77.7,195.8 77.7,193.4 77.8,191.4 77.8,189.6 77.8,188.0 77.9,186.7 78.0,185.9 78.2,185.2 78.3,184.7 78.4,184.3 78.4,184.0 78.5,183.8 78.5,183.6 78.5,183.5 78.6,183.5 78.6,183.4 78.6,183.4 78.6,183.5 78.8,183.9 79.0,184.6 79.2,185.7 79.5,187.0 79.7,188.7 80.0,190.6 80.3,193.5 80.6,197.5 80.9,201.5 81.3,204.8 81.6,208.0 81.9,211.2 82.3,214.2 82.7,217.1 83.0,219.9 83.4,222.5 83.8,224.9 84.2,227.2 84.6,229.4 85.0,231.6 85.4,233.8 85.8,235.9 86.2,237.9 86.7,239.9 87.1,241.9 87.6,243.9 88.0,245.8 88.5,247.8 89.0,249.7 89.5,251.7 90.0,253.6 90.5,255.4 91.1,257.3 91.6,259.1 92.2,260.9 92.7,262.7 93.3,264.5 93.9,266.3 94.5,268.0 95.1,269.8 95.7,271.6 96.3,273.3 96.9,275.0 97.5,276.7 98.1,278.4 98.8,280.1 99.4,281.7 100.0,283.3 100.7,284.8 101.3,286.3 102.0,287.7 102.6,289.1 103.3,290.4 103.9,291.6 104.6,292.8 105.3,294.0 105.9,295.1 106.6,296.1 107.3,297.2 108.0,298.2 108.7,299.2 109.4,300.1 110.0,301.0 110.7,301.9 111.4,302.8 112.2,303.7 112.9,304.5 113.6,305.4 114.3,306.2 115.0,307.0 115.7,307.9 116.5,308.6 117.2,309.4 118.0,310.2 118.7,310.9 119.4,311.7 120.2,312.4 120.9,313.1 121.7,313.8 122.4,314.4 123.2,315.1 123.9,315.7 124.7,316.4 125.5,317.0 126.2,317.6 127.0,318.2 127.8,318.7 128.5,319.3 129.3,319.9 130.1,320.4 130.9,320.9 131.7,321.5 132.5,322.0 133.3,322.5 134.1,323.0 134.9,323.5 135.7,324.0 136.5,324.5 137.3,325.0 138.2,325.5 139.0,326.0 139.8,326.5 140.7,327.0 141.5,327.5 142.4,328.0 143.3,328.5 144.1,328.9 145.0,329.4 145.9,329.8 146.8,330.2 147.7,330.6 148.6,331.0 149.5,331.4 150.4,331.8 151.4,332.1 152.3,332.5 153.3,332.9 154.2,333.2 155.2,333.6 156.1,334.0 157.1,334.3 158.1,334.7 159.1,335.0 160.1,335.4 161.1,335.8 162.1,336.1 163.1,336.5 164.1,336.8 165.2,337.2 166.2,337.5 167.2,337.9 168.3,338.3 169.4,338.6 170.4,339.0 171.5,339.4 172.6,339.8 173.7,340.2 174.8,340.6 175.9,341.0 177.1,341.3 178.2,341.7 179.3,342.1 180.5,342.4 181.6,342.8 182.8,343.1 183.9,343.4 185.1,343.7 186.3,344.1 187.4,344.4 188.6,344.7 189.8,345.0 191.0,345.3 192.2,345.6 193.4,345.8 194.6,346.1 195.8,346.4 197.0,346.7 198.2,347.1 199.4,347.5 200.6,347.9 201.9,348.3 203.1,348.7 204.3,349.0 205.5,349.4 206.7,349.7 207.9,350.1 209.2,350.4 210.4,350.8 211.6,351.1 212.8,351.5 214.1,351.8 215.3,352.3 216.5,352.7 217.7,353.0 219.0,353.2 220.6,345.9 221.6,339.4 222.9,328.9 224.1,314.0 225.2,297.2 226.5,279.5 227.5,264.7 228.9,251.1 230.0,240.6 231.2,231.9 232.6,224.3 233.7,218.4 235.3,213.6 237.0,208.5 239.0,203.1 240.3,200.0 241.5,197.5 242.8,195.8 244.0,194.5 245.3,193.6 246.5,192.9 247.8,192.4 249.0,192.0 250.3,191.7 251.5,191.5 252.8,191.5 254.1,191.5 255.3,191.5 256.6,191.5 257.8,191.5 259.1,191.6 260.4,191.8 261.6,192.2 262.9,192.6 264.2,193.0 265.4,193.4 266.7,194.0 267.9,194.6 269.2,195.3 270.5,196.0 271.7,196.6 273.0,197.2 274.2,197.7 275.5,198.1 276.7,198.5 278.0,198.8 279.3,199.2 280.5,199.5 281.8,199.9 283.0,200.3 284.3,200.7 285.5,201.1 286.8,201.6 288.0,202.2 289.3,202.8 290.5,203.3 291.8,203.9 293.0,204.4 294.2,204.9 295.5,205.5 296.7,206.0 298.0,206.5 299.2,206.9 300.5,207.3 301.7,207.6 302.9,207.8 304.2,208.0 305.4,208.2 306.7,208.4 307.9,208.6 309.1,208.8 310.4,209.0 311.6,209.3 312.8,209.6 314.1,209.9 315.3,210.1 316.5,210.4 317.8,210.7 319.0,211.0 320.2,211.3 321.5,211.5 322.7,211.8 323.9,212.0 325.1,212.3 326.4,212.5 327.6,212.8 328.8,213.2 330.0,213.7 331.3,214.6 332.5,215.5 333.7,216.4 334.9,217.2 336.1,218.1 337.4,219.1 338.6,220.4 339.8,221.6 341.0,223.0 342.2,224.5 343.5,226.1 344.7,227.8 345.9,229.6 347.1,231.4 348.3,233.2 349.5,235.1 350.7,237.1 352.0,239.4 353.2,241.4 354.4,243.3 355.6,245.1 356.8,246.7 358.0,248.5 359.2,250.3 360.4,252.2 361.6,254.3 362.8,256.4 364.0,258.5 365.2,260.7 366.4,262.8 367.6,264.9 368.8,267.0 370.0,269.0 371.2,271.2 372.4,273.2 373.6,275.3 374.8,277.2 376.0,278.9 377.2,280.5 378.4,281.9 379.6,283.2 380.8,284.4 382.0,285.6 383.2,286.8 384.4,288.0 385.6,289.2 386.8,290.4 388.0,291.6 389.2,292.8 390.3,293.9 391.5,295.0 392.7,296.1 393.9,297.2 395.1,298.2 396.3,299.1 397.5,300.1 398.6,301.0 399.8,301.8 401.0,302.7 402.2,303.5 403.3,304.3 404.5,305.0 405.7,305.8 406.8,306.5 408.0,307.2 409.1,307.9 410.3,308.5 411.4,309.2 412.6,309.8 413.7,310.4 414.8,310.9 415.9,311.5 417.1,312.0 418.2,312.4 419.3,312.9 420.4,313.3 421.5,313.8 422.6,314.2 423.7,314.6 424.8,315.0 425.9,315.4 427.0,315.8 428.1,316.2 429.2,316.6 430.3,317.0 431.3,317.3 432.4,317.7 433.5,318.0 434.5,318.4 435.6,318.7 436.7,319.0 437.7,319.3 438.8,319.6 439.8,319.9 440.9,320.2 441.9,320.5 442.9,320.8 444.0,321.1 445.0,321.4 446.0,321.6 447.0,321.9 448.1,322.1 449.1,322.4 450.1,322.6 451.1,322.9 452.1,323.1 453.1,323.3 454.1,323.5 455.1,323.6 456.1,323.8 457.1,323.9 458.1,324.0 459.1,324.1 460.0,324.2 461.0,324.3 462.0,324.4 463.0,324.5 463.9,324.6 464.9,324.6 465.8,324.7 466.8,324.7 467.7,324.7 468.7,324.7 469.6,324.7 470.6,324.7 471.5,324.7 472.4,324.7 473.3,324.6 474.2,324.6 475.2,324.5 476.0,324.5 476.9,324.4 477.8,324.4 478.7,324.3 479.6,324.2 480.5,324.1 481.3,324.0 482.2,323.9 483.0,323.7 483.9,323.5 484.7,323.3 485.5,323.0 486.4,322.8 487.2,322.6 488.0,322.3 488.8,322.1 489.6,321.8 490.4,321.6 491.2,321.3 492.0,321.1 492.8,320.8 493.6,320.6 494.4,320.3 495.2,320.0 495.9,319.7 496.7,319.4 497.4,319.1 498.2,318.8 498.9,318.5 499.7,318.1 500.4,317.8 501.2,317.5 501.9,317.1 502.6,316.7 503.3,316.4 504.0,316.0 504.7,315.6 505.4,315.2 506.1,314.8 506.8,314.3 507.5,313.9 508.1,313.5 508.8,313.0 509.4,312.5 510.1,312.0 510.7,311.5 511.3,311.0 511.9,310.5 512.5,309.9 513.1,309.2 513.7,308.5 514.3,307.8 514.9,307.0 515.5,306.2 516.0,305.4 516.6,304.6 517.1,303.8 517.7,303.0 518.2,302.3 518.7,301.5 519.3,300.8 519.8,300.0 520.3,299.3 520.8,298.5 521.3,297.8 521.8,297.0 522.2,296.3 522.7,295.5 523.2,294.8 523.6,294.0 524.1,293.3 524.5,292.5 524.9,291.8 525.3,291.0 525.7,290.2 526.0,289.5 526.4,288.7 526.8,287.9 527.1,287.2 527.4,286.4 527.8,285.7 528.1,284.9 528.4,284.1 528.7,283.4 529.0,282.6 529.3,281.9 529.6,281.2 529.8,280.4 530.1,279.7 530.3,278.9 530.6,278.1 530.8,277.4 531.1,276.6 531.3,275.8 531.5,275.0 531.7,274.2 531.9,273.4 532.1,272.7 532.3,271.9 532.5,271.2 532.7,270.4 532.9,269.5 533.1,268.7 533.2,267.8 533.4,266.8 533.6,265.8 533.7,264.7 533.9,263.6 534.0,262.4 534.1,261.3 534.3,260.0 534.4,258.8 534.5,257.6 534.7,256.4 534.8,255.2 534.9,254.0 535.0,364.4 535.2,343.2 534.9,322.1 535.0,301.0 535.2,279.9 534.9,258.8" marker-start="url(#m4)" marker-mid="url(#m4)" marker-end="url(#m4)"/>
<polyline points="77.1,358.3 77.1,343.0 77.1,328.2 77.1,313.8 77.1,300.0 77.1,286.7 77.1,273.8 77.1,261.4 77.1,249.6 77.1,238.2 77.1,227.4 77.1,217.1 77.1,207.3 77.1,198.0 77.1,189.3 77.1,181.2 77.1,173.6 77.2,166.5 77.2,160.1 77.2,154.2 77.2,149.0 77.2,144.4 77.2,140.4 77.2,137.1 77.2,134.6 77.2,132.8 77.2,131.9 77.2,133.3 77.2,141.0 77.3,148.6 77.3,156.3 77.3,163.9 77.4,171.6 77.7,183.4 77.8,183.4 77.9,183.4 78.0,183.4 78.1,183.4 78.2,183.4 78.3,183.4 78.4,183.4 78.6,183.4 78.7,183.4 78.8,183.4 79.0,183.4 79.1,183.4 79.3,183.4 79.4,183.4 79.6,183.4 79.8,183.5 80.0,183.6 80.2,183.8 80.4,184.1 80.6,184.3 80.8,184.7 81.0,185.1 81.2,185.5 81.4,185.9 81.7,186.3 81.9,186.7 82.1,187.1 82.4,187.7 82.6,188.2 82.8,188.9 83.1,189.5 83.3,190.2 83.6,191.0 83.8,191.7 84.1,192.5 84.4,193.3 84.6,194.1 84.9,195.0 85.2,195.8 85.5,196.6 85.7,197.5 86.0,198.4 86.3,199.4 86.6,200.4 86.9,201.3 87.2,202.3 87.5,203.3 87.8,204.2 88.2,205.2 88.5,206.1 88.8,207.1 89.1,208.0 89.5,209.0 89.8,210.0 90.1,210.9 90.5,211.9 90.8,212.9 91.2,213.9 91.6,214.9 91.9,216.0 92.3,217.0 92.7,218.0 93.1,219.1 93.4,220.1 93.8,221.2 94.2,222.3 94.6,223.4 95.0,224.5 95.4,225.7 95.8,226.8 96.2,228.0 96.6,229.1 97.1,230.3 97.5,231.5 97.9,232.7 98.3,233.8 98.7,235.0 99.1,236.2 99.6,237.3 100.0,238.5 100.4,239.6 100.8,240.7 101.3,241.9 101.7,242.9 102.1,244.0 102.6,245.0 103.0,246.0 103.5,247.0 103.9,247.9 104.3,248.8 104.8,249.7 105.2,250.6 105.7,251.5 106.1,252.4 106.6,253.2 107.0,254.0 107.5,254.8 107.9,255.7 108.4,256.5 108.9,257.2 109.3,258.0 109.8,258.8 110.3,259.5 110.7,260.3 111.2,261.0 111.7,261.8 112.1,262.5 112.6,263.3 113.1,264.0 113.6,264.7 114.0,265.4 114.5,266.1 115.0,266.9 115.5,267.6 116.0,268.3 116.5,269.0 116.9,269.7 117.4,270.4 117.9,271.1 118.4,271.8 118.9,272.5 119.4,273.2 119.9,273.9 120.4,274.6 120.9,275.3 121.4,276.0 121.9,276.6 122.4,277.3 122.9,278.0 123.4,278.6 123.9,279.3 124.4,279.9 124.9,280.6 125.4,281.3 126.0,281.9 126.5,282.5 127.0,283.2 127.5,283.8 128.0,284.5 128.5,285.1 129.0,285.7 129.6,286.3 130.1,287.0 130.6,287.6 131.1,288.2 131.7,288.8 132.2,289.4 132.7,290.0 133.3,290.6 133.8,291.2 134.3,291.9 134.9,292.5 135.4,293.0 136.0,293.6 136.5,294.2 137.1,294.8 137.6,295.4 138.2,296.0 138.7,296.6 139.3,297.1 139.8,297.7 140.4,298.3 141.0,298.8 141.5,299.4 142.1,300.0 142.7,300.5 143.3,301.0 143.8,301.6 144.4,302.1 145.0,302.6 145.6,303.2 146.2,303.7 146.8,304.2 147.4,304.7 148.0,305.2 148.6,305.7 149.2,306.2 149.8,306.6 150.5,307.1 151.1,307.6 151.7,308.1 152.3,308.5 152.9,309.0 153.6,309.4 154.2,309.9 154.9,310.3 155.5,310.8 156.1,311.2 156.8,311.6 157.4,312.0 158.1,312.4 158.7,312.8 159.4,313.2 160.1,313.5 160.7,313.9 161.4,314.3 162.1,314.6 162.8,315.0 163.5,315.3 164.1,315.7 164.8,316.0 165.5,316.4 166.2,316.7 166.9,317.1 167.6,317.5 168.3,317.8 169.0,318.2 169.8,318.6 170.5,319.0 171.2,319.4 171.9,319.7 172.7,320.1 173.4,320.5 174.1,320.9 174.9,321.3 175.6,321.7 176.4,322.0 177.1,322.4 177.9,322.8 178.6,323.2 179.4,323.6 180.1,323.9 180.9,324.3 181.7,324.7 182.4,325.1 183.2,325.4 184.0,325.8 184.7,326.2 185.5,326.6 186.3,326.9 187.1,327.3 187.9,327.7 188.7,328.0 189.5,328.4 190.3,328.8 191.1,329.1 191.9,329.5 192.7,329.8 193.5,330.2 194.3,330.5 195.1,330.8 195.9,331.2 196.7,331.5 197.5,331.8 198.3,332.2 199.1,332.5 199.9,332.9 200.7,333.2 201.5,333.5 202.3,333.9 203.1,334.2 203.9,334.6 204.8,335.0 205.6,335.3 206.4,335.7 207.2,336.0 208.0,336.4 208.8,336.7 209.6,337.1 210.5,337.4 211.3,337.8 212.1,338.1 212.9,338.5 213.7,338.8 214.5,339.2 215.3,339.5 216.2,339.8 217.0,340.2 217.8,340.5 218.6,340.9 219.4,341.2 220.3,341.6 221.1,342.0 221.9,342.4 222.7,342.8 223.6,343.2 224.4,343.6 225.2,344.1 226.0,344.6 226.8,345.1 227.7,345.6 228.5,346.2 229.3,346.8 230.1,347.4 231.0,348.1 231.8,348.9 232.6,349.6 233.5,350.4 234.3,351.3 235.1,352.1 235.9,352.8 236.8,353.6 237.6,354.4 238.4,355.1 239.3,355.9 240.1,356.7 240.9,357.4 241.8,358.2 242.6,358.9 243.4,359.7 244.3,360.5 245.1,361.2 245.9,362.0 246.8,362.7 247.6,363.3 248.4,363.9 249.3,364.4 250.1,364.8 250.9,365.2 251.8,365.5 252.6,365.8 253.5,366.2 254.3,366.5 255.1,366.9 256.0,367.3 256.8,367.8 257.7,368.3 258.5,368.9 259.4,369.5 260.2,370.9 261.0,373.1 261.9,375.0 262.7,376.8 263.6,377.4 264.8,375.2 265.2,358.8 265.9,342.4 266.8,323.9 267.7,303.8 268.5,285.0 269.7,267.5 270.3,252.2 271.4,239.1 272.2,230.5 273.1,223.0 273.9,217.1 274.8,212.2 275.6,207.7 276.4,203.1 277.3,198.6 278.1,194.1 278.9,189.7 279.8,185.1 280.6,180.3 281.4,175.7 282.3,171.5 283.1,167.9 283.9,164.7 284.8,162.0 285.6,160.2 286.4,158.6 287.3,157.5 288.1,157.1 288.9,156.8 289.8,156.6 290.6,156.5 291.4,156.4 292.3,156.3 293.1,156.4 293.9,156.5 294.8,156.8 295.6,157.1 296.4,157.4 297.2,157.8 298.1,158.1 298.9,158.6 299.7,159.1 300.6,159.7 301.4,160.2 302.2,160.8 303.0,161.4 303.9,162.0 304.7,162.6 305.5,163.3 306.3,163.9 307.2,164.6 308.0,165.3 308.8,166.0 309.6,166.7 310.5,167.4 311.3,168.0 312.1,168.7 312.9,169.3 313.7,170.0 314.6,170.7 315.4,171.3 316.2,172.0 317.0,172.7 317.9,173.3 318.7,174.0 319.5,174.6 320.3,175.3 321.1,175.9 322.0,176.5 322.8,177.2 323.6,177.8 324.4,178.4 325.2,179.0 326.0,179.6 326.9,180.3 327.7,180.9 328.5,181.5 329.3,182.1 330.1,182.7 330.9,183.3 331.8,183.9 332.6,184.4 333.4,185.0 334.2,185.6 335.0,186.2 335.8,186.8 336.6,187.3 337.5,187.9 338.3,188.5 339.1,189.0 339.9,189.6 340.7,190.1 341.5,190.6 342.3,191.2 343.1,191.7 343.9,192.2 344.8,192.7 345.6,193.2 346.4,193.7 347.2,194.2 348.0,194.7 348.8,195.2 349.6,195.7 350.4,196.2 351.2,196.7 352.0,197.1 352.8,197.6 353.6,198.0 354.5,198.5 355.3,198.9 356.1,199.3 356.9,199.8 357.7,200.2 358.5,200.6 359.3,201.0 360.1,201.4 360.9,201.8 361.7,202.2 362.5,202.6 363.3,203.1 364.1,203.5 364.9,204.0 365.7,204.4 366.5,204.9 367.3,205.4 368.1,205.9 368.9,206.4 369.7,206.9 370.5,207.4 371.3,207.9 372.1,208.4 372.9,208.8 373.7,209.3 374.5,209.7 375.3,210.2 376.1,210.6 376.9,210.9 377.7,211.3 378.5,211.7 379.3,212.1 380.1,212.4 380.9,212.8 381.7,213.1 382.5,213.5 383.3,213.8 384.1,214.2 384.9,214.5 385.7,214.9 386.5,215.2 387.2,215.6 388.0,216.0 388.8,216.3 389.6,216.7 390.4,217.1 391.2,217.5 392.0,217.8 392.8,218.2 393.6,218.6 394.4,218.9 395.2,219.3 396.0,219.7 396.7,220.0 397.5,220.3 398.3,220.7 399.1,221.0 399.9,221.3 400.7,221.7 401.5,222.0 402.3,222.3 403.0,222.6 403.8,222.9 404.6,223.2 405.4,223.5 406.1,223.8 406.9,224.1 407.7,224.4 408.4,224.7 409.2,225.1 410.0,225.4 410.7,225.7 411.5,226.0 412.2,226.3 413.0,226.6 413.8,226.9 414.5,227.2 415.3,227.5 416.0,227.8 416.8,228.1 417.5,228.4 418.3,228.6 419.0,228.9 419.7,229.2 420.5,229.5 421.2,229.7 422.0,230.0 422.7,230.3 423.4,230.5 424.2,230.8 424.9,231.1 425.6,231.3 426.3,231.6 427.1,231.8 427.8,232.1 428.5,232.3 429.2,232.6 430.0,232.8 430.7,233.1 431.4,233.3 432.1,233.6 432.8,233.8 433.5,234.0 434.2,234.3 434.9,234.5 435.7,234.8 436.4,235.0 437.1,235.2 437.8,235.5 438.5,235.7 439.2,236.0 439.9,236.2 440.6,236.4 441.2,236.7 441.9,236.9 442.6,237.2 443.3,237.4 444.0,237.7 444.7,237.9 445.4,238.2 446.1,238.4 446.7,238.6 447.4,238.9 448.1,239.1 448.8,239.3 449.5,239.6 450.1,239.8 450.8,240.0 451.5,240.2 452.1,240.4 452.8,240.7 453.5,240.9 454.1,241.1 454.8,241.3 455.5,241.5 456.1,241.8 456.8,242.0 457.4,242.2 458.1,242.5 458.8,242.7 459.4,243.0 460.1,243.2 460.7,243.5 461.4,243.7 462.0,244.0 462.7,244.2 463.3,244.5 463.9,244.8 464.6,245.0 465.2,245.3 465.9,245.6 466.5,245.8 467.1,246.1 467.8,246.4 468.4,246.6 469.0,246.9 469.7,247.2 470.3,247.4 470.9,247.7 471.5,248.0 472.1,248.2 472.7,248.5 473.4,248.8 474.0,249.1 474.6,249.3 475.2,249.6 475.8,249.9 476.4,250.1 477.0,250.4 477.5,250.7 478.1,251.0 478.7,251.2 479.3,251.5 479.9,251.7 480.5,252.0 481.0,252.3 481.6,252.5 482.2,252.8 482.8,253.0 483.3,253.3 483.9,253.5 484.4,253.8 485.0,254.0 485.6,254.3 486.1,254.5 486.7,254.8 487.2,255.0 487.8,255.3 488.3,255.5 488.8,255.8 489.4,256.0 489.9,256.3 490.4,256.5 491.0,256.8 491.5,257.1 492.0,257.3 492.6,257.5 493.1,257.8 493.6,258.0 494.1,258.3 494.6,258.5 495.2,258.8 495.7,259.0 496.2,259.3 496.7,259.5 497.2,259.8 497.7,260.1 498.2,260.3 498.7,260.6 499.2,260.9 499.7,261.2 500.2,261.5 500.7,261.8 501.1,262.1 501.6,262.4 502.1,262.7 502.6,263.0 503.1,263.3 503.5,263.6 504.0,264.0 504.5,264.3 505.0,264.7 505.4,265.1 505.9,265.5 506.3,265.9 506.8,266.3 507.2,266.8 507.7,267.3 508.1,267.8 508.5,268.3 509.0,268.9 509.4,269.5 509.8,270.1 510.3,270.7 510.7,271.4 511.1,272.1 511.5,272.9 511.9,273.7 512.3,274.5 512.7,275.4 513.1,276.4 513.5,277.3 513.9,278.3 514.3,279.3 514.7,280.5 515.0,281.6 515.4,282.7 515.8,283.8 516.2,284.8 516.5,285.8 516.9,286.7 517.3,287.7 517.6,288.7 518.0,289.9 518.3,291.1 518.7,292.4 519.0,293.8 519.4,295.3 519.7,296.7 520.1,298.1 520.4,299.5 520.7,300.9 521.1,302.3 521.4,303.7 521.7,305.1 522.0,306.5 522.4,307.9 522.7,309.3 523.0,310.7 523.3,312.0 523.6,313.3 523.9,314.7 524.1,316.0 524.4,317.3 524.7,318.6 525.0,319.9 525.2,321.3 525.5,322.6 525.7,323.8 526.0,325.1 526.2,326.3 526.5,327.5 526.7,328.6 526.9,329.8 527.2,330.9 527.4,331.9 527.6,333.0 527.8,334.0 528.0,335.0 528.3,336.0 528.5,336.9 528.7,337.9 528.9,338.7 529.0,339.6 529.2,340.4 529.4,341.2 529.6,342.0 529.8,342.8 530.0,343.5 530.1,344.3 530.3,345.0 530.5,345.7 530.6,346.4 530.8,347.1 530.9,347.9 531.1,348.6 531.3,349.3 531.4,349.9 531.5,350.6 531.7,351.3 531.8,351.9 532.0,352.6 532.1,353.2 532.2,353.9 532.4,354.5 532.5,355.1 532.6,355.7 532.7,356.3 532.8,356.9 533.0,357.5 533.1,358.1 533.2,358.7 533.3,359.3 533.4,359.9 533.5,360.5 533.6,361.0 533.7,361.6 533.8,362.2 533.9,362.7 534.0,363.3 534.1,363.8 534.2,364.4 534.3,364.9 534.4,365.4 534.5,365.9 534.5,366.5 534.6,367.0 534.7,367.5 534.8,368.0 534.9,368.4 534.9,368.9 535.0,369.4 535.1,369.9 535.2,370.3 535.2,370.8 535.3,371.2 535.4,371.6 77.2,371.5 77.2,362.0 77.2,352.9 77.2,344.1 77.2,335.6 77.3,327.4 77.3,319.5 77.3,311.9 77.3,304.6 77.3,297.5 77.3,290.8 77.3,284.3 77.3,278.1 77.3,272.1 77.3,266.4 77.3,260.9 77.4,255.6 77.4,250.7 77.4,245.9 77.4,241.3 77.4,237.0 77.4,232.9 77.4,229.0 77.5,225.3 77.5,221.8 77.5,218.5 77.5,215.4 77.5,212.5 77.5,209.7 77.5,207.2 77.5,204.7 77.6,202.5 77.6,200.4 77.6,198.4 77.7,196.6 77.7,195.0 77.7,193.4 77.8,192.0 77.8,190.7 77.8,189.6 77.8,188.5 77.8,187.5 77.9,186.7 78.0,186.1 78.1,185.6 78.2,185.2 78.2,184.9 78.3,184.6 78.4,184.3 78.4,184.1 78.4,183.9 78.5,183.8 78.5,183.7 78.5,183.6 78.5,183.5 78.5,183.5 78.6,183.4 78.6,183.4 78.6,183.4 78.6,183.4 78.6,183.5 78.8,183.8 78.9,184.2 79.1,184.8 79.2,185.5 79.4,186.3 79.5,187.3 79.7,188.4 79.9,189.6 80.1,191.0 80.3,193.1 80.5,195.6 80.7,198.3 80.9,201.0 81.1,203.4 81.3,205.5 81.6,207.7 81.8,209.8 82.0,211.9 82.3,213.9 82.5,215.9 82.7,217.8 83.0,219.6 83.2,221.4 83.5,223.0 83.7,224.6 84.0,226.2 84.3,227.7 84.5,229.3 84.8,230.7 85.1,232.2 85.3,233.6 85.6,235.0 85.9,236.4 86.2,237.8 86.5,239.1 86.8,240.5 87.1,241.8 87.4,243.1 87.7,244.4 88.0,245.7 88.3,247.0 88.7,248.3 89.0,249.6 89.3,250.9 89.7,252.2 90.0,253.5 90.3,254.7 90.7,256.0 91.0,257.2 91.4,258.5 91.8,259.7 92.1,260.9 92.5,262.1 92.9,263.3 93.3,264.5 93.7,265.6 94.0,266.8 94.4,268.0 94.8,269.2 95.3,270.3 95.7,271.5 96.1,272.7 96.5,273.8 96.9,275.0 97.3,276.1 97.7,277.3 98.1,278.4 98.5,279.5 99.0,280.6 99.4,281.7 99.8,282.7 100.2,283.8 100.7,284.8 101.1,285.8 101.5,286.8 102.0,287.7 102.4,288.6 102.8,289.5 103.3,290.4 103.7,291.2 104.1,292.0 104.6,292.8 105.0,293.6 105.5,294.3 105.9,295.1 106.4,295.8 106.8,296.5 107.3,297.2 107.7,297.8 108.2,298.5 108.7,299.2 109.1,299.8 109.6,300.4 110.0,301.0 110.5,301.6 111.0,302.2 111.5,302.8 111.9,303.4 112.4,304.0 112.9,304.6 113.3,305.1 113.8,305.7 114.3,306.2 114.8,306.8 115.3,307.3 115.8,307.9 116.2,308.4 116.7,308.9 117.2,309.4 117.7,309.9 118.2,310.4 118.7,310.9 119.2,311.4 119.7,311.9 120.2,312.4 120.7,312.9 121.2,313.3 121.7,313.8 122.2,314.2 122.7,314.7 123.2,315.1 123.7,315.5 124.2,316.0 124.7,316.4 125.2,316.8 125.7,317.2 126.2,317.6 126.8,318.0 127.3,318.4 127.8,318.7 128.3,319.1 128.8,319.5 129.3,319.9 129.9,320.2 130.4,320.6 130.9,320.9 131.4,321.3 132.0,321.7 132.5,322.0 133.0,322.3 133.6,322.7 134.1,323.0 134.6,323.4 135.2,323.7 135.7,324.0 136.3,324.4 136.8,324.7 137.4,325.1 137.9,325.4 138.5,325.7 139.0,326.1 139.6,326.4 140.2,326.7 140.7,327.0 141.3,327.4 141.9,327.7 142.4,328.0 143.0,328.3 143.6,328.6 144.2,328.9 144.8,329.2 145.4,329.5 146.0,329.8 146.5,330.1 147.1,330.4 147.8,330.6 148.4,330.9 149.0,331.2 149.6,331.4 150.2,331.7 150.8,331.9 151.4,332.2 152.0,332.4 152.7,332.7 153.3,332.9 153.9,333.1 154.6,333.4 155.2,333.6 155.9,333.9 156.5,334.1 157.2,334.3 157.8,334.6 158.5,334.8 159.1,335.1 159.8,335.3 160.5,335.5 161.1,335.8 161.8,336.0 162.5,336.2 163.2,336.5 163.8,336.7 164.5,337.0 165.2,337.2 165.9,337.4 166.6,337.7 167.3,337.9 168.0,338.2 168.7,338.4 169.5,338.7 170.2,338.9 170.9,339.2 171.6,339.4 172.3,339.7 173.1,340.0 173.8,340.2 174.5,340.5 175.3,340.7 176.0,341.0 176.8,341.2 177.5,341.5 178.3,341.7 179.0,342.0 179.8,342.2 180.6,342.4 181.3,342.7 182.1,342.9 182.9,343.1 183.6,343.3 184.4,343.6 185.2,343.8 186.0,344.0 186.8,344.2 187.5,344.4 188.3,344.6 189.1,344.8 189.9,345.0 190.7,345.2 191.5,345.4 192.3,345.6 193.1,345.8 193.9,346.0 194.7,346.2 195.5,346.3 196.3,346.5 197.1,346.7 197.9,346.9 198.7,347.0 199.6,347.2 200.4,347.4 201.2,347.5 202.0,347.7 202.8,347.8 203.6,348.0 204.4,348.1 205.2,348.3 206.0,348.4 206.8,348.6 207.7,348.7 208.5,348.8 209.3,349.0 210.1,349.1 210.9,349.3 211.7,349.4 212.5,349.5 213.4,349.7 214.2,349.8 215.0,349.9 215.8,350.1 216.6,350.2 217.4,350.3 218.3,350.4 219.1,350.6 219.9,350.7 220.7,350.8 221.6,351.0 222.4,351.1 223.2,351.2 224.0,351.4 224.8,351.5 225.7,351.7 226.5,351.8 227.3,351.9 228.1,352.1 229.0,352.2 229.8,352.3 230.6,352.4 231.4,352.5 232.3,352.6 233.1,352.7 233.9,352.7 234.8,352.8 235.6,352.8 236.4,352.8 237.2,352.8 238.1,352.9 238.9,352.9 239.7,352.9 240.6,352.9 241.4,352.9 242.2,352.9 243.1,352.9 243.9,352.8 244.7,352.7 245.6,352.6 246.4,352.5 247.2,352.4 248.1,352.3 248.9,352.3 249.7,352.3 250.6,352.5 251.4,351.5 252.1,348.1 253.3,342.4 254.2,332.0 254.9,319.3 255.8,305.3 256.8,290.9 257.7,279.5 258.8,269.7 259.4,260.3 260.5,254.0 261.1,247.2 262.0,241.3 262.9,235.8 263.8,231.0 264.8,226.7 265.6,223.7 266.5,221.0 267.3,218.4 268.1,215.9 269.0,213.6 269.8,211.3 270.7,209.1 271.5,207.3 272.3,205.9 273.2,204.7 274.0,203.6 274.8,202.4 275.7,200.9 276.5,199.8 277.4,199.2 278.2,198.8 279.0,198.4 279.9,198.1 280.7,197.9 281.5,197.8 282.4,197.7 283.2,197.6 284.0,197.6 284.9,197.5 285.7,197.4 286.5,197.4 287.4,197.4 288.2,197.4 289.0,197.4 289.9,197.5 290.7,197.5 291.5,197.6 292.4,197.6 293.2,197.7 294.0,197.8 294.8,197.9 295.7,198.0 296.5,198.2 297.3,198.3 298.2,198.4 299.0,198.5 299.8,198.7 300.6,198.8 301.5,199.0 302.3,199.2 303.1,199.5 304.0,199.7 304.8,200.0 305.6,200.2 306.4,200.5 307.3,200.7 308.1,201.0 308.9,201.2 309.7,201.4 310.6,201.6 311.4,201.8 312.2,202.0 313.0,202.2 313.8,202.4 314.7,202.6 315.5,202.8 316.3,203.0 317.1,203.2 317.9,203.4 318.8,203.6 319.6,203.7 320.4,203.9 321.2,204.1 322.0,204.3 322.9,204.5 323.7,204.7 324.5,204.9 325.3,205.1 326.1,205.3 327.0,205.5 327.8,205.7 328.6,206.0 329.4,206.3 330.2,206.6 331.0,206.9 331.8,207.4 332.7,207.9 333.5,208.4 334.3,209.0 335.1,209.7 335.9,210.4 336.7,211.1 337.5,212.0 338.4,213.0 339.2,213.9 340.0,214.9 340.8,216.0 341.6,217.0 342.4,218.2 343.2,219.3 344.0,220.5 344.9,221.7 345.7,222.9 346.5,224.1 347.3,225.4 348.1,226.7 348.9,228.0 349.7,229.4 350.5,230.9 351.3,232.5 352.1,234.2 352.9,235.8 353.7,237.2 354.5,238.5 355.4,239.7 356.2,241.0 357.0,242.1 357.8,243.3 358.6,244.6 359.4,245.9 360.2,247.2 361.0,248.6 361.8,250.0 362.6,251.4 363.4,252.9 364.2,254.3 365.0,255.7 365.8,257.2 366.6,258.6 367.4,260.0 368.2,261.4 369.0,262.8 369.8,264.2 370.6,265.7 371.4,267.2 372.2,268.6 373.0,270.0 373.8,271.4 374.6,272.7 375.4,273.9 376.2,275.0 377.0,276.0 377.8,277.0 378.6,277.8 379.4,278.6 380.2,279.4 381.0,280.1 381.8,280.9 382.6,281.6 383.4,282.4 384.2,283.2 385.0,284.0 385.8,284.8 386.5,285.6 387.3,286.4 388.1,287.2 388.9,287.9 389.7,288.7 390.5,289.5 391.3,290.2 392.1,291.0 392.9,291.7 393.7,292.5 394.5,293.1 395.3,293.8 396.1,294.5 396.8,295.1 397.6,295.7 398.4,296.3 399.2,296.9 400.0,297.5 400.8,298.1 401.6,298.6 402.3,299.2 403.1,299.7 403.9,300.3 404.7,300.8 405.4,301.3 406.2,301.8 407.0,302.3 407.8,302.8 408.5,303.3 409.3,303.7 410.1,304.2 410.8,304.6 411.6,305.1 412.3,305.5 413.1,305.9 413.8,306.3 414.6,306.7 415.4,307.0 416.1,307.4 416.8,307.7 417.6,308.0 418.3,308.4 419.1,308.7 419.8,309.0 420.6,309.2 421.3,309.5 422.0,309.8 422.8,310.1 423.5,310.4 424.2,310.7 425.0,310.9 425.7,311.2 426.4,311.5 427.2,311.8 427.9,312.0 428.6,312.3 429.3,312.5 430.0,312.8 430.8,313.0 431.5,313.3 432.2,313.5 432.9,313.8 433.6,314.0 434.3,314.2 435.0,314.5 435.7,314.7 436.4,314.9 437.1,315.1 437.8,315.4 438.5,315.6 439.2,315.8 439.9,316.0 440.6,316.2 441.3,316.4 442.0,316.6 442.7,316.8 443.4,317.0 444.1,317.2 444.8,317.4 445.5,317.6 446.1,317.8 446.8,318.0 447.5,318.1 448.2,318.3 448.9,318.4 449.5,318.6 450.2,318.8 450.9,318.9 451.6,319.1 452.2,319.2 452.9,319.3 453.6,319.5 454.2,319.6 454.9,319.7 455.5,319.8 456.2,319.9 456.9,320.0 457.5,320.1 458.2,320.2 458.8,320.3 459.5,320.3 460.1,320.4 460.8,320.5 461.4,320.6 462.1,320.6 462.7,320.7 463.4,320.8 464.0,320.8 464.7,320.9 465.3,320.9 465.9,320.9 466.6,321.0 467.2,321.0 467.8,321.0 468.5,321.0 469.1,321.0 469.7,321.0 470.4,321.0 471.0,321.0 471.6,321.0 472.2,321.0 472.8,321.0 473.4,320.9 474.0,320.9 474.6,320.9 475.2,320.9 475.8,320.8 476.4,320.8 477.0,320.8 477.6,320.7 478.2,320.7 478.8,320.6 479.4,320.6 480.0,320.6 480.5,320.5 481.1,320.4 481.7,320.3 482.2,320.2 482.8,320.1 483.4,320.0 483.9,319.9 484.5,319.7 485.1,319.6 485.6,319.4 486.2,319.3 486.7,319.1 487.3,318.9 487.8,318.8 488.4,318.6 488.9,318.5 489.4,318.3 490.0,318.1 490.5,318.0 491.0,317.8 491.6,317.7 492.1,317.5 492.6,317.4 493.1,317.2 493.7,317.0 494.2,316.9 494.7,316.7 495.2,316.5 495.7,316.3 496.2,316.1 496.7,316.0 497.2,315.8 497.7,315.6 498.2,315.4 498.7,315.2 499.2,315.0 499.7,314.8 500.2,314.6 500.7,314.3 501.2,314.1 501.7,313.9 502.2,313.7 502.6,313.5 503.1,313.2 503.6,313.0 504.1,312.7 504.5,312.5 505.0,312.2 505.5,312.0 505.9,311.7 506.4,311.5 506.8,311.2 507.3,310.9 507.7,310.6 508.2,310.4 508.6,310.1 509.0,309.8 509.5,309.4 509.9,309.1 510.3,308.8 510.7,308.5 511.1,308.1 511.5,307.8 512.0,307.5 512.4,307.1 512.8,306.7 513.2,306.2 513.6,305.8 513.9,305.3 514.3,304.8 514.7,304.3 515.1,303.7 515.5,303.2 515.8,302.7 516.2,302.1 516.6,301.6 517.0,301.0 517.3,300.5 517.7,300.0 518.0,299.5 518.4,299.0 518.7,298.5 519.1,298.0 519.4,297.5 519.8,297.0 520.1,296.6 520.4,296.1 520.8,295.6 521.1,295.2 521.4,294.7 521.8,294.2 522.1,293.7 522.4,293.2 522.7,292.8 523.0,292.3 523.3,291.8 523.6,291.3 523.9,290.8 524.2,290.3 524.5,289.8 524.7,289.3 525.0,288.8 525.3,288.3 525.5,287.8 525.8,287.2 526.0,286.7 526.3,286.2 526.5,285.7 526.7,285.1 527.0,284.6 527.2,284.0 527.4,283.5 527.6,283.0 527.9,282.4 528.1,281.9 528.3,281.4 528.5,280.8 528.7,280.3 528.9,279.8 529.1,279.2 529.3,278.7 529.4,278.2 529.6,277.6 529.8,277.1 530.0,276.6 530.1,276.0 530.3,275.5 530.5,275.0 530.6,274.4 530.8,273.9 531.0,273.3 531.1,272.8 531.3,272.2 531.4,271.7 531.6,271.2 531.7,270.6 531.8,270.1 532.0,269.5 532.1,269.0 532.2,268.4 532.4,267.9 532.5,267.4 532.6,266.9 532.7,266.3 532.9,265.8 533.0,265.2 533.1,264.7 533.2,264.1 533.3,263.5 533.4,263.0 533.5,262.3 533.6,261.7 533.7,261.1 533.8,260.4 533.9,259.8 534.0,259.1 534.1,258.4 534.2,257.6 534.3,256.7 534.4,255.8 534.5,254.9 534.5,253.9 534.6,252.9 534.7,252.0 534.8,251.0 534.9,250.0 534.9,249.0 535.0,248.0 535.2,372.7 534.9,354.6 535.0,336.5 535.2,318.4 534.9,300.3 535.0,282.2 535.2,264.1" marker-start="url(#m5)" marker-mid="url(#m5)" marker-end="url(#m5)"/>
</g>
<path d="M76.09 378.00v4.6M167.95 378.00v4.6M259.81 378.00v4.6M351.68 378.00v4.6M443.54 378.00v4.6M535.40 378.00v4.6M71.50 378.00h-4.6M71.50 334.31h-4.6M71.50 290.62h-4.6M71.50 246.94h-4.6M71.50 203.25h-4.6M71.50 159.56h-4.6M71.50 115.88h-4.6M71.50 72.19h-4.6M71.50 28.50h-4.6" stroke="#000" stroke-width="1.05" fill="none"/>
<rect x="71.50" y="28.50" width="468.50" height="349.50" fill="none" stroke="#000" stroke-width="1.05"/>
<g font-size="13.1px">
<text x="76.19" y="397.1" text-anchor="middle">0.0</text>
<text x="168.05" y="397.1" text-anchor="middle">0.2</text>
<text x="259.91" y="397.1" text-anchor="middle">0.4</text>
<text x="351.78" y="397.1" text-anchor="middle">0.6</text>
<text x="443.64" y="397.1" text-anchor="middle">0.8</text>
<text x="535.50" y="397.1" text-anchor="middle">1.0</text>
<text x="62.00" y="383.10" text-anchor="end">0.000</text>
<text x="62.00" y="339.41" text-anchor="end">0.001</text>
<text x="62.00" y="295.73" text-anchor="end">0.002</text>
<text x="62.00" y="252.04" text-anchor="end">0.003</text>
<text x="62.00" y="208.35" text-anchor="end">0.004</text>
<text x="62.00" y="164.66" text-anchor="end">0.005</text>
<text x="62.00" y="120.97" text-anchor="end">0.006</text>
<text x="62.00" y="77.29" text-anchor="end">0.007</text>
<text x="62.00" y="33.60" text-anchor="end">0.008</text>
<text x="305.75" y="415" text-anchor="middle">x</text>
<text transform="translate(17.50 203.85) rotate(-90)" text-anchor="middle">Cf</text>
</g>
<text y="20.7" font-size="15.90px"><tspan x="201.8 210.8 220.4 235.7 240.3 244.9 255.7 259.4 269.7 273.8 280.0 290.6 302.7 307.4 317.9 327.4 337.2 347.1 353.5 358.7">Family 1 (2D quad), </tspan><tspan font-style="italic" x="363.3">α</tspan><tspan x="374.0 376.2 389.0 392.7"> = 0</tspan><tspan font-style="italic" font-size="11.13px" x="403.6" dy="-6.8">o</tspan></text>
<rect x="470.45" y="35.30" width="63.00" height="118.80" rx="2.8" ry="2.8" fill="#fff" fill-opacity="0.8" stroke="#ccc" stroke-opacity="0.8" stroke-width="1.1"/>
<path d="M486.70 43.65h4.70l-2.35 4.70z" fill="#1f77b4"/>
<text x="512.75" y="50.60" font-size="13.1px">L1</text>
<path d="M486.70 62.85h4.70l-2.35 4.70z" fill="#ff7f0e"/>
<text x="512.75" y="69.80" font-size="13.1px">L2</text>
<path d="M486.70 82.05h4.70l-2.35 4.70z" fill="#2ca02c"/>
<text x="512.75" y="89.00" font-size="13.1px">L3</text>
<path d="M486.70 101.25h4.70l-2.35 4.70z" fill="#d62728"/>
<text x="512.75" y="108.20" font-size="13.1px">L4</text>
<path d="M486.70 120.45h4.70l-2.35 4.70z" fill="#9467bd"/>
<text x="512.75" y="127.40" font-size="13.1px">L5</text>
<path d="M486.70 139.65h4.70l-2.35 4.70z" fill="#8c564b"/>
<text x="512.75" y="146.60" font-size="13.1px">L6</text>
<path stroke="#b0b0b0" stroke-width="1.05" fill="none" d="M675.95 28.50V378.00M767.83 28.50V378.00M859.71 28.50V378.00M951.59 28.50V378.00M1043.47 28.50V378.00M1135.35 28.50V378.00M671.40 378.00H1139.85M671.40 319.75H1139.85M671.40 261.50H1139.85M671.40 203.25H1139.85M671.40 145.00H1139.85M671.40 86.75H1139.85M671.40 28.50H1139.85"/>
<g clip-path="url(#c1)" fill="none" stroke="none">
<polyline points="678.0,364.6 677.8,307.1 677.4,249.6 676.4,199.0 676.3,193.2 676.3,187.4 676.2,181.6 676.1,175.8 676.1,169.9 676.0,164.1 676.0,158.3 675.9,152.5 675.9,146.7 675.9,140.8 675.8,135.0 675.8,129.2 675.8,123.4 675.7,117.6 675.7,111.8 676.3,155.9 676.7,168.5 677.2,175.8 677.7,181.9 678.4,187.3 679.2,194.1 680.2,203.6 681.5,212.3 683.0,220.1 684.5,229.0 686.2,241.0 689.0,217.2 691.2,167.3 693.0,119.2 695.6,91.7 698.5,81.3 700.8,81.6 703.1,84.5 706.0,89.1 708.9,92.4 711.8,96.8 715.4,102.2 718.5,107.3 722.0,111.9 725.6,116.9 729.3,121.7 733.1,126.5 736.9,131.1 740.9,135.5 744.9,140.2 749.1,144.8 753.3,149.2 757.5,153.3 761.9,157.2 766.3,161.0 770.8,164.7 775.3,168.4 779.9,172.2 784.6,175.9 789.3,179.3 794.1,182.6 799.0,185.6 803.8,188.7 808.7,192.3 813.6,196.0 818.5,199.4 823.4,203.1 828.3,207.4 833.3,212.6 838.3,218.8 843.3,224.1 848.3,230.0 853.3,235.6 858.3,241.3 863.4,246.5 868.4,251.8 873.5,256.6 878.5,260.4 883.5,264.3 888.5,268.3 893.5,271.5 898.5,274.4 903.5,276.7 908.4,279.1 913.4,281.8 918.3,284.5 923.2,287.0 928.1,289.0 933.0,290.9 937.9,293.0 942.8,295.0 947.7,296.9 952.5,298.7 957.4,300.3 962.2,301.8 967.0,303.2 971.8,304.6 976.6,305.9 981.4,307.1 986.2,308.4 991.0,309.5 995.7,310.7 1000.4,311.8 1005.1,312.9 1009.8,313.9 1014.4,314.9 1018.9,316.0 1023.3,317.1 1027.7,318.3 1032.1,319.5 1036.3,320.8 1040.6,322.2 1044.7,323.4 1048.8,324.6 1052.9,325.9 1056.9,327.1 1060.8,328.6 1064.7,330.1 1068.6,331.7 1072.3,333.3 1076.0,334.8 1079.6,336.1 1083.0,337.2 1086.4,338.1 1089.7,339.2 1092.9,340.6 1096.0,342.4 1099.1,344.4 1102.0,346.7 1104.9,349.1 1107.7,351.6 1110.3,354.2 1112.8,356.8 1115.2,359.4 1117.5,362.0 1119.6,364.4 1121.6,366.8 1123.6,369.2 1125.3,371.4 1126.8,373.4 1128.2,375.2 1129.4,376.7 1130.5,378.1 1131.5,379.4 1132.3,380.5 1133.1,381.4 1133.7,382.3 1134.3,383.0 1134.8,383.7 1135.3,384.2 678.7,378.0 679.6,363.0 680.8,346.0 682.2,330.1 683.6,322.8 685.2,319.3 687.0,317.7 688.9,316.9 691.0,316.7 693.2,317.6 695.7,319.3 698.3,321.2 701.0,323.4 703.8,325.4 706.8,327.1 709.8,328.8 713.0,330.4 716.3,332.0 719.7,333.6 723.2,335.2 726.8,336.6 730.5,338.0 734.3,339.3 738.2,340.5 742.2,341.6 746.3,342.7 750.4,343.7 754.6,344.6 758.9,345.5 763.3,346.5 767.7,347.4 772.2,348.2 776.8,348.9 781.4,349.6 786.1,350.3 790.8,351.4 795.7,352.6 800.5,353.8 805.4,355.0 810.3,354.7 813.8,348.4 818.8,338.6 823.8,322.0 828.8,303.6 833.7,289.0 838.7,279.4 843.7,275.0 848.7,273.3 854.0,272.4 859.2,272.2 864.3,273.0 869.3,273.7 874.4,274.4 879.4,275.0 884.4,275.6 889.4,276.1 894.4,276.7 899.4,277.1 904.3,277.5 909.3,278.5 914.2,280.7 919.2,283.4 924.1,286.2 929.0,288.6 933.9,290.7 938.8,292.8 943.7,294.7 948.5,296.6 953.4,298.3 958.2,299.6 963.1,301.2 967.9,305.7 972.7,313.7 977.5,318.1 982.3,321.6 987.0,324.4 991.8,327.2 996.5,329.0 1001.3,330.9 1006.0,332.5 1010.6,334.0 1015.2,335.2 1019.7,336.4 1024.1,337.5 1028.5,338.4 1032.8,339.1 1037.1,339.7 1041.3,340.2 1045.4,340.8 1049.5,341.3 1053.6,341.7 1057.6,342.1 1061.5,342.3 1065.4,342.3 1069.2,342.1 1073.0,341.6 1076.6,341.0 1080.2,339.8 1083.6,338.5 1087.0,337.4 1090.3,336.4 1093.5,335.2 1096.6,334.0 1099.6,332.7 1102.6,331.4 1105.4,329.9 1108.2,328.4 1110.8,326.9 1113.3,325.3 1115.6,323.4 1117.9,321.3 1120.0,319.0 1122.0,316.6 1123.9,314.2 1125.6,311.9 1127.1,309.7 1128.4,307.6 1129.6,305.6 1130.7,303.7 1131.6,302.0 1132.5,300.6 1133.2,299.4 1133.8,298.4 1134.4,297.4 1134.8,375.8 1134.9,320.4" marker-start="url(#m0)" marker-mid="url(#m0)" marker-end="url(#m0)"/>
<polyline points="678.0,355.3 677.8,311.6 677.6,267.9 677.0,224.2 676.4,196.3 676.4,192.4 676.3,188.4 676.3,184.5 676.2,180.6 676.2,176.7 676.1,172.7 676.1,168.8 676.0,164.9 676.0,160.9 676.0,157.0 675.9,153.1 675.9,149.2 675.9,145.2 675.9,141.3 675.9,137.4 675.8,133.4 675.8,129.5 675.8,125.6 675.8,121.7 675.7,117.7 675.7,113.8 675.7,109.9 675.7,105.9 676.4,159.9 676.7,167.4 677.0,172.9 677.3,177.3 677.7,181.4 678.1,185.2 678.6,189.0 679.2,193.8 679.8,200.1 680.6,206.6 681.5,212.2 682.4,217.3 683.4,222.5 684.5,228.4 685.6,234.8 686.7,241.5 687.9,248.4 689.2,254.6 691.2,233.1 693.0,190.7 694.7,143.4 696.7,106.5 697.9,84.7 699.7,74.7 701.4,72.9 703.2,72.8 704.9,73.8 706.7,75.8 708.6,78.6 710.4,81.9 712.3,85.3 714.2,88.8 716.1,92.3 718.1,95.9 720.1,99.5 722.1,102.9 724.1,106.2 726.1,109.2 728.1,112.1 730.2,114.9 732.3,117.5 734.5,120.1 736.6,122.7 738.8,125.2 741.1,127.7 743.4,130.2 745.7,132.7 748.1,135.2 750.5,137.6 753.0,140.1 755.5,142.5 758.1,144.9 760.8,147.4 763.4,149.8 766.2,152.1 769.0,154.5 771.9,156.7 774.8,159.0 777.8,161.3 780.8,163.7 783.9,166.1 787.0,168.3 790.1,170.5 793.3,172.7 796.5,174.7 799.8,176.6 803.0,178.8 806.2,181.2 809.5,183.7 812.8,186.1 816.0,188.3 819.3,190.6 822.6,193.0 825.9,195.8 829.2,199.0 832.5,202.6 835.8,206.5 839.1,210.3 842.4,213.7 845.8,217.8 849.1,222.4 852.5,226.8 855.8,230.7 859.2,234.3 862.6,237.9 865.9,241.6 869.3,245.3 872.6,248.9 876.0,251.9 879.4,254.7 882.7,257.4 886.0,260.1 889.4,262.6 892.7,264.8 896.0,266.8 899.3,268.6 902.6,270.2 905.9,271.8 909.2,273.4 912.5,275.1 915.8,276.7 919.1,278.3 922.4,279.8 925.7,281.1 928.9,282.3 932.2,283.6 935.5,284.8 938.7,286.1 942.0,287.3 945.2,288.5 948.5,289.6 951.7,290.6 954.9,291.7 958.2,292.7 961.4,293.7 964.6,294.7 967.8,295.6 971.0,296.5 974.2,297.4 977.4,298.2 980.6,299.1 983.8,299.9 986.9,300.8 990.1,301.7 993.3,302.6 996.5,303.4 999.6,304.3 1002.8,305.2 1005.9,306.0 1009.0,306.8 1012.0,307.6 1015.0,308.3 1018.0,309.1 1021.0,309.9 1024.0,310.8 1026.9,311.7 1029.8,312.6 1032.7,313.5 1035.5,314.4 1038.3,315.4 1041.1,316.3 1043.9,317.2 1046.6,318.1 1049.4,318.9 1052.1,319.8 1054.7,320.6 1057.4,321.5 1060.0,322.3 1062.6,323.2 1065.2,324.2 1067.8,325.1 1070.3,326.1 1072.8,327.0 1075.2,328.0 1077.6,328.9 1079.9,329.8 1082.2,330.6 1084.5,331.3 1086.7,332.0 1088.9,332.8 1091.1,333.6 1093.2,334.4 1095.3,335.3 1097.3,336.3 1099.3,337.3 1101.3,338.5 1103.2,339.6 1105.1,340.9 1107.0,342.3 1108.8,343.8 1110.5,345.4 1112.1,347.1 1113.7,348.8 1115.3,350.6 1116.8,352.4 1118.3,354.2 1119.7,356.2 1121.0,358.2 1122.3,360.4 1123.6,362.5 1124.7,364.5 1125.8,366.4 1126.8,368.2 1127.7,369.8 1128.5,371.2 1129.3,372.5 1130.1,373.7 1130.7,374.7 1131.4,375.6 1131.9,376.4 1132.5,377.1 1132.9,377.8 1133.4,378.3 1133.8,378.8 678.9,375.3 679.5,364.8 680.3,353.2 681.1,341.6 682.1,331.1 683.0,325.3 684.0,322.1 685.1,319.9 686.2,318.5 687.4,317.8 688.7,317.3 690.0,317.0 691.4,317.1 692.8,317.6 694.4,318.6 696.0,319.7 697.6,320.8 699.3,322.1 701.0,323.5 702.7,324.7 704.5,325.8 706.3,326.9 708.1,327.9 709.9,328.8 711.8,329.8 713.7,330.7 715.6,331.7 717.6,332.6 719.6,333.6 721.5,334.5 723.6,335.3 725.6,336.1 727.6,336.9 729.7,337.7 731.8,338.4 733.9,339.2 736.1,339.8 738.3,340.5 740.5,341.2 742.8,341.8 745.1,342.4 747.5,343.0 749.9,343.6 752.4,344.1 754.9,344.7 757.5,345.2 760.1,345.8 762.8,346.4 765.5,346.9 768.3,347.5 771.1,348.0 774.1,348.5 777.0,348.9 780.0,349.4 783.1,349.8 786.2,350.3 789.3,350.7 792.5,351.2 795.7,351.6 798.9,352.1 802.2,352.5 805.4,352.9 808.7,353.3 811.9,353.6 815.2,354.0 818.5,354.4 821.7,354.7 825.0,355.0 828.3,355.3 831.6,355.5 834.9,355.8 838.3,356.0 841.6,356.3 844.9,356.6 848.3,357.0 851.6,357.7 855.0,358.2 858.3,358.7 861.7,359.2 865.1,359.9 868.4,360.5 871.4,355.0 874.7,347.8 878.4,335.3 881.9,320.9 885.1,306.8 888.6,296.9 891.7,290.4 895.0,286.6 898.3,285.1 901.7,284.5 905.0,284.1 908.3,284.0 911.6,284.0 914.9,284.1 918.1,284.2 921.4,284.6 924.7,285.1 928.0,285.6 931.2,285.8 934.5,286.0 937.8,286.7 941.0,288.1 944.3,289.9 947.5,291.8 950.7,293.8 954.0,295.8 957.2,298.1 960.4,300.4 963.6,302.7 966.8,304.8 970.0,306.7 973.2,308.6 976.4,310.7 979.6,313.2 982.8,315.5 986.0,317.2 989.2,318.7 992.4,320.0 995.5,321.1 998.7,321.9 1001.8,322.5 1004.9,323.0 1008.0,323.6 1011.1,324.3 1014.1,325.2 1017.2,326.0 1020.1,326.7 1023.1,327.3 1026.0,327.9 1028.9,328.5 1031.8,329.0 1034.7,329.5 1037.5,330.0 1040.3,330.5 1043.1,330.9 1045.8,331.4 1048.6,331.8 1051.3,332.2 1053.9,332.6 1056.6,332.9 1059.2,333.1 1061.8,333.4 1064.4,333.6 1067.0,333.8 1069.5,333.8 1072.0,333.8 1074.5,333.8 1076.9,333.7 1079.2,333.6 1081.6,333.4 1083.8,333.0 1086.1,332.6 1088.3,332.0 1090.5,331.5 1092.6,330.9 1094.7,330.3 1096.7,329.6 1098.7,328.8 1100.7,327.9 1102.7,326.9 1104.6,325.7 1106.4,324.6 1108.2,323.4 1110.0,322.3 1111.6,321.2 1113.3,320.0 1114.8,318.8 1116.4,317.5 1117.8,316.2 1119.2,314.8 1120.6,313.3 1121.9,311.7 1123.2,309.8 1124.4,307.9 1125.5,306.0 1126.5,304.3 1127.4,302.6 1128.3,300.8 1129.1,298.9 1129.8,296.7 1130.5,294.4 1131.2,292.1 1131.8,289.9 1132.3,287.6 1132.8,285.1 1133.3,282.3 1133.7,279.2 1134.1,276.0 1134.4,272.4 1134.9,353.0 1135.1,316.1 1134.8,279.2" marker-start="url(#m1)" marker-mid="url(#m1)" marker-end="url(#m1)"/>
<polyline points="678.0,349.4 677.9,314.0 677.7,278.6 677.4,243.3 676.7,207.9 676.4,193.8 676.4,190.8 676.3,187.8 676.3,184.8 676.3,181.8 676.2,178.9 676.2,175.9 676.2,172.9 676.1,169.9 676.1,166.9 676.1,163.9 676.0,161.0 676.0,158.0 676.0,155.0 675.9,152.0 675.9,149.0 675.9,146.1 675.9,143.1 675.9,140.1 675.9,137.1 675.9,134.1 675.8,131.1 675.8,128.1 675.8,125.2 675.8,122.2 675.8,119.2 675.8,116.2 675.7,113.2 675.7,110.2 675.7,107.3 675.7,104.3 675.7,101.3 676.5,162.0 676.7,167.7 676.9,172.2 677.1,175.8 677.4,179.0 677.7,182.1 678.0,185.0 678.3,187.9 678.7,191.0 679.2,195.0 679.7,199.8 680.3,204.9 680.9,209.5 681.6,213.6 682.3,217.6 683.0,221.6 683.8,225.8 684.5,230.5 685.4,235.5 686.2,240.6 687.1,245.7 688.0,250.7 689.0,256.6 690.0,262.3 691.1,266.5 692.2,267.2 693.3,261.4 694.3,252.2 695.6,218.9 696.7,176.7 697.9,136.7 699.4,108.1 700.6,90.7 702.0,81.0 703.3,76.9 704.6,75.3 705.9,74.5 707.3,74.5 708.7,75.3 710.1,76.4 711.5,78.1 712.9,80.1 714.3,82.3 715.8,84.9 717.2,87.6 718.7,90.1 720.2,92.4 721.7,94.6 723.2,96.8 724.7,98.9 726.2,101.2 727.8,103.6 729.3,106.1 730.9,108.7 732.5,111.3 734.1,113.7 735.7,115.9 737.3,117.9 739.0,119.8 740.7,121.5 742.4,123.3 744.1,125.0 745.9,126.7 747.7,128.5 749.5,130.4 751.4,132.5 753.2,134.6 755.1,136.8 757.1,139.0 759.0,141.2 761.0,143.4 763.1,145.5 765.1,147.3 767.2,149.3 769.3,151.1 771.5,153.0 773.7,154.8 775.9,156.6 778.1,158.4 780.4,160.2 782.7,162.1 785.0,163.8 787.4,165.6 789.7,167.3 792.1,168.9 794.5,170.4 796.9,171.9 799.4,173.4 801.8,175.1 804.2,176.8 806.7,178.6 809.1,180.5 811.5,182.2 814.0,184.0 816.4,185.6 818.9,187.3 821.4,189.1 823.8,191.0 826.3,193.2 828.8,195.7 831.3,198.4 833.7,201.3 836.2,204.2 838.7,207.0 841.2,209.6 843.7,212.4 846.2,215.7 848.7,219.3 851.2,222.9 853.7,226.1 856.3,229.0 858.8,231.7 861.3,234.3 863.9,237.2 866.4,240.1 868.9,242.9 871.4,245.7 873.9,248.2 876.4,250.5 879.0,252.7 881.5,254.8 884.0,256.8 886.5,258.8 889.0,260.7 891.5,262.4 894.0,264.0 896.4,265.5 898.9,266.9 901.4,268.2 903.9,269.4 906.4,270.6 908.9,271.8 911.3,273.0 913.8,274.2 916.3,275.4 918.7,276.6 921.2,277.7 923.6,278.8 926.1,279.8 928.6,280.7 931.0,281.6 933.4,282.5 935.9,283.5 938.3,284.4 940.8,285.4 943.2,286.2 945.6,287.1 948.1,287.9 950.5,288.7 952.9,289.4 955.3,290.2 957.8,291.0 960.2,291.8 962.6,292.5 965.0,293.2 967.4,293.9 969.8,294.6 972.2,295.2 974.6,295.9 977.0,296.5 979.4,297.2 981.8,297.8 984.2,298.5 986.6,299.1 988.9,299.8 991.3,300.5 993.7,301.1 996.1,301.8 998.4,302.5 1000.8,303.1 1003.1,303.8 1005.5,304.4 1007.8,305.0 1010.1,305.7 1012.4,306.3 1014.6,306.9 1016.9,307.5 1019.1,308.1 1021.4,308.7 1023.6,309.3 1025.8,309.9 1028.0,310.6 1030.1,311.3 1032.3,311.9 1034.4,312.6 1036.5,313.3 1038.6,313.9 1040.7,314.6 1042.8,315.2 1044.9,315.9 1046.9,316.5 1049.0,317.1 1051.0,317.8 1053.0,318.4 1055.0,319.0 1057.0,319.6 1059.0,320.3 1060.9,320.9 1062.9,321.6 1064.8,322.3 1066.7,322.9 1068.6,323.6 1070.5,324.3 1072.4,325.0 1074.2,325.7 1076.0,326.5 1077.8,327.1 1079.6,327.8 1081.3,328.4 1083.0,329.0 1084.7,329.6 1086.4,330.1 1088.0,330.7 1089.6,331.2 1091.3,331.8 1092.8,332.4 1094.4,333.1 1095.9,333.7 1097.5,334.4 1099.0,335.1 1100.4,335.8 1101.9,336.6 1103.4,337.4 1104.8,338.2 1106.2,339.2 1107.5,340.2 1108.8,341.3 1110.1,342.5 1111.4,343.8 1112.6,345.0 1113.8,346.3 1115.0,347.6 1116.1,348.9 1117.2,350.3 1118.3,351.8 1119.3,353.3 1120.4,354.9 1121.4,356.6 1122.3,358.4 1123.3,360.1 1124.1,361.7 1125.0,363.3 1125.8,364.8 1126.5,366.2 1127.2,367.5 1127.9,368.7 1128.5,369.9 1129.1,371.0 1129.6,371.9 1130.2,372.8 1130.7,373.6 1131.2,374.3 1131.6,374.9 1132.0,375.5 1132.4,376.0 1132.8,376.5 1133.1,377.0 1133.5,377.4 1133.8,377.7 1134.0,378.0 679.0,373.9 679.5,365.8 680.0,356.9 680.7,348.1 681.3,339.3 682.0,331.5 682.7,326.9 683.5,323.7 684.3,321.7 685.1,320.2 685.9,319.0 686.8,318.4 687.7,318.0 688.7,317.7 689.7,317.4 690.7,317.3 691.8,317.5 692.9,318.0 694.0,318.6 695.2,319.4 696.5,320.1 697.7,321.0 699.0,321.9 700.2,322.9 701.5,323.9 702.8,324.8 704.1,325.6 705.5,326.4 706.8,327.2 708.2,327.9 709.6,328.6 711.0,329.4 712.4,330.1 713.8,330.8 715.2,331.5 716.7,332.2 718.2,332.9 719.7,333.6 721.2,334.3 722.7,335.0 724.2,335.6 725.7,336.2 727.2,336.8 728.8,337.4 730.3,337.9 731.9,338.5 733.5,339.0 735.1,339.5 736.8,340.1 738.4,340.6 740.1,341.0 741.8,341.5 743.5,342.0 745.3,342.5 747.1,342.9 748.9,343.3 750.7,343.8 752.6,344.2 754.5,344.6 756.4,345.0 758.3,345.4 760.3,345.8 762.3,346.3 764.4,346.7 766.5,347.1 768.6,347.5 770.7,347.9 772.9,348.3 775.1,348.6 777.3,349.0 779.6,349.3 781.9,349.7 784.2,350.0 786.5,350.3 788.9,350.7 791.3,351.0 793.7,351.3 796.1,351.7 798.5,352.0 800.9,352.3 803.4,352.6 805.8,352.9 808.2,353.2 810.7,353.5 813.1,353.8 815.6,354.1 818.0,354.3 820.5,354.6 823.0,354.8 825.4,355.0 827.9,355.2 830.4,355.4 832.9,355.6 835.3,355.8 837.8,356.0 840.3,356.2 842.8,356.4 845.3,356.6 847.8,356.8 850.3,357.0 852.9,357.2 855.4,357.4 857.9,357.6 860.4,357.7 863.0,357.9 865.5,358.1 868.0,358.3 870.5,358.6 873.0,358.8 875.6,359.0 878.1,359.2 880.6,359.3 883.1,359.4 885.6,359.5 888.1,359.6 890.6,359.7 893.1,359.9 895.6,360.2 898.0,360.5 900.5,360.7 903.0,360.9 905.5,361.2 908.0,361.4 910.4,361.6 912.9,361.9 916.5,357.6 919.0,351.7 921.6,342.3 924.2,330.9 926.7,318.3 929.3,307.3 931.9,298.6 934.7,292.1 937.2,287.6 939.6,287.1 942.0,287.7 944.5,288.9 946.9,290.4 949.3,292.0 951.7,293.5 954.2,294.6 956.6,295.5 959.0,296.4 961.4,297.4 963.8,298.4 966.2,299.7 968.6,301.2 971.0,302.8 973.4,304.5 975.8,306.2 978.2,308.0 980.6,309.8 983.0,311.7 985.4,313.7 987.8,315.6 990.2,317.1 992.5,318.2 994.9,319.1 997.3,319.9 999.7,320.6 1002.0,321.2 1004.4,321.8 1006.7,322.4 1009.0,322.9 1011.3,323.6 1013.6,324.2 1015.8,324.8 1018.1,325.3 1020.3,325.8 1022.5,326.3 1024.7,326.8 1026.9,327.2 1029.1,327.6 1031.2,328.0 1033.4,328.4 1035.5,328.8 1037.6,329.1 1039.7,329.5 1041.8,329.8 1043.9,330.2 1045.9,330.6 1048.0,330.9 1050.0,331.2 1052.0,331.4 1054.0,331.7 1056.0,331.9 1058.0,332.1 1060.0,332.3 1061.9,332.5 1063.9,332.7 1065.8,332.9 1067.7,333.0 1069.6,333.0 1071.5,333.0 1073.3,332.9 1075.1,332.9 1076.9,332.8 1078.7,332.7 1080.5,332.6 1082.2,332.4 1083.9,332.2 1085.6,331.8 1087.2,331.4 1088.9,331.0 1090.5,330.6 1092.1,330.2 1093.6,329.7 1095.2,329.2 1096.7,328.7 1098.2,328.1 1099.7,327.5 1101.2,326.8 1102.7,326.0 1104.1,325.1 1105.5,324.3 1106.9,323.4 1108.2,322.6 1109.5,321.8 1110.8,320.9 1112.0,320.1 1113.2,319.2 1114.4,318.3 1115.6,317.3 1116.7,316.4 1117.8,315.4 1118.8,314.4 1119.9,313.3 1120.9,312.1 1121.9,310.9 1122.8,309.5 1123.7,308.1 1124.6,306.7 1125.4,305.3 1126.2,304.0 1126.9,302.7 1127.6,301.5 1128.2,300.2 1128.8,298.8 1129.4,297.2 1129.9,295.6 1130.4,293.8 1130.9,292.1 1131.4,290.5 1131.8,288.8 1132.2,287.1 1132.6,285.3 1133.0,283.4 1133.3,281.3 1133.6,279.0 1133.9,276.6 1134.2,274.1 1134.5,271.5 1134.7,268.8 1135.1,369.3 1134.8,341.6 1134.9,313.9 1135.1,286.3" marker-start="url(#m2)" marker-mid="url(#m2)" marker-end="url(#m2)"/>
<polyline points="678.0,367.9 678.0,345.5 677.9,323.1 677.8,300.7 677.7,278.3 677.5,255.9 677.3,233.6 676.8,211.2 676.4,193.2 676.4,191.2 676.4,189.2 676.3,187.1 676.3,185.1 676.3,183.1 676.3,181.1 676.3,179.1 676.2,177.1 676.2,175.1 676.2,173.0 676.2,171.0 676.2,169.0 676.1,167.0 676.1,165.0 676.1,163.0 676.1,161.0 676.0,159.0 676.0,156.9 676.0,154.9 676.0,152.9 676.0,150.9 675.9,148.9 675.9,146.9 675.9,144.9 675.9,142.8 675.9,140.8 675.9,138.8 675.9,136.8 675.9,134.8 675.9,132.8 675.8,130.8 675.8,128.8 675.8,126.7 675.8,124.7 675.8,122.7 675.8,120.7 675.8,118.7 675.8,116.7 675.8,114.7 675.8,112.6 675.7,110.6 675.7,108.6 675.7,106.6 675.7,104.6 675.7,102.6 675.7,100.6 675.7,98.5 676.5,161.3 676.6,165.2 676.7,168.5 676.9,171.3 677.0,173.8 677.2,176.0 677.4,178.4 677.6,180.4 677.8,182.4 678.0,184.3 678.2,186.3 678.5,188.4 678.8,190.7 679.1,193.3 679.4,196.4 679.8,199.8 680.2,203.4 680.6,206.8 681.0,209.7 681.5,212.5 681.9,215.2 682.4,217.8 682.9,220.5 683.4,223.4 683.9,226.3 684.5,229.4 685.0,232.7 685.6,236.1 686.1,239.6 686.7,243.0 687.3,246.5 688.0,249.8 688.6,253.1 689.3,256.2 690.0,259.4 690.7,262.6 691.4,265.6 692.1,268.4 692.9,270.9 693.6,273.3 694.4,275.6 695.2,278.0 696.0,280.4 696.9,282.9 697.7,285.4 698.5,287.8 699.4,290.4 700.2,293.0 701.4,274.0 702.3,247.8 703.1,213.9 704.3,177.7 704.9,146.6 706.0,122.5 707.1,106.5 708.4,95.6 709.3,88.0 710.4,83.1 711.3,81.0 712.2,80.0 713.2,79.2 714.1,78.8 715.1,78.7 716.1,79.0 717.1,79.6 718.1,80.3 719.0,81.3 720.0,82.8 721.0,84.6 722.0,86.3 723.0,87.8 724.1,89.3 725.1,90.7 726.1,92.2 727.1,93.7 728.1,95.2 729.2,96.7 730.2,98.2 731.3,99.8 732.3,101.5 733.4,103.2 734.5,104.9 735.6,106.7 736.6,108.5 737.7,110.3 738.9,112.0 740.0,113.7 741.1,115.3 742.3,116.8 743.4,118.3 744.6,119.8 745.8,121.3 747.0,122.7 748.2,124.2 749.4,125.6 750.6,127.0 751.9,128.4 753.1,129.8 754.4,131.2 755.7,132.6 757.0,134.0 758.3,135.4 759.6,136.7 760.9,138.1 762.3,139.6 763.6,141.0 765.0,142.3 766.4,143.7 767.8,145.1 769.2,146.4 770.7,147.7 772.1,149.0 773.6,150.3 775.1,151.5 776.5,152.8 778.1,154.0 779.6,155.3 781.1,156.6 782.6,157.9 784.2,159.2 785.7,160.5 787.3,161.7 788.9,163.0 790.5,164.2 792.1,165.3 793.7,166.5 795.3,167.6 796.9,168.6 798.5,169.7 800.1,170.8 801.7,171.9 803.4,173.1 805.0,174.2 806.6,175.4 808.2,176.6 809.9,177.8 811.5,178.9 813.1,180.0 814.8,181.1 816.4,182.2 818.0,183.3 819.7,184.4 821.3,185.6 823.0,186.9 824.6,188.2 826.2,189.7 827.9,191.4 829.5,193.2 831.2,195.1 832.9,197.0 834.5,198.9 836.2,200.8 837.8,202.7 839.5,204.5 841.2,206.2 842.8,208.0 844.5,210.1 846.2,212.4 847.8,214.9 849.5,217.5 851.2,220.0 852.9,222.3 854.5,224.4 856.2,226.3 857.9,228.1 859.6,229.8 861.3,231.6 863.0,233.5 864.6,235.5 866.3,237.5 868.0,239.4 869.7,241.3 871.4,243.2 873.0,245.0 874.7,246.7 876.4,248.3 878.1,249.8 879.7,251.2 881.4,252.7 883.1,254.1 884.8,255.4 886.4,256.8 888.1,258.0 889.8,259.2 891.4,260.4 893.1,261.4 894.7,262.5 896.4,263.5 898.1,264.4 899.7,265.3 901.4,266.2 903.0,267.0 904.7,267.8 906.3,268.7 908.0,269.5 909.6,270.3 911.3,271.1 912.9,271.9 914.6,272.6 916.2,273.4 917.9,274.1 919.5,274.9 921.1,275.6 922.8,276.3 924.4,277.0 926.0,277.6 927.7,278.2 929.3,278.9 930.9,279.5 932.6,280.1 934.2,280.7 935.8,281.4 937.5,282.0 939.1,282.6 940.7,283.2 942.3,283.8 944.0,284.4 945.6,284.9 947.2,285.4 948.8,286.0 950.4,286.5 952.1,287.0 953.7,287.5 955.3,288.1 956.9,288.6 958.5,289.1 960.1,289.7 961.7,290.2 963.3,290.7 964.9,291.2 966.5,291.7 968.1,292.1 969.7,292.6 971.3,293.0 972.9,293.5 974.5,293.9 976.1,294.4 977.7,294.8 979.3,295.3 980.9,295.7 982.5,296.2 984.1,296.6 985.7,297.1 987.3,297.6 988.9,298.0 990.5,298.5 992.0,299.0 993.6,299.5 995.2,300.0 996.8,300.4 998.4,300.9 999.9,301.4 1001.5,301.8 1003.1,302.3 1004.6,302.7 1006.2,303.2 1007.7,303.6 1009.3,304.1 1010.8,304.5 1012.3,304.9 1013.8,305.3 1015.3,305.8 1016.8,306.2 1018.3,306.6 1019.8,307.0 1021.3,307.4 1022.8,307.9 1024.2,308.3 1025.7,308.7 1027.1,309.1 1028.6,309.6 1030.0,310.0 1031.5,310.4 1032.9,310.9 1034.3,311.3 1035.7,311.8 1037.1,312.2 1038.5,312.6 1039.9,313.1 1041.3,313.5 1042.7,313.9 1044.1,314.3 1045.5,314.8 1046.8,315.2 1048.2,315.6 1049.5,316.0 1050.9,316.4 1052.2,316.8 1053.6,317.3 1054.9,317.7 1056.2,318.1 1057.5,318.5 1058.9,318.9 1060.2,319.4 1061.5,319.8 1062.8,320.2 1064.0,320.6 1065.3,321.1 1066.6,321.5 1067.9,322.0 1069.1,322.4 1070.4,322.9 1071.6,323.3 1072.9,323.8 1074.1,324.3 1075.3,324.7 1076.5,325.2 1077.7,325.6 1078.8,326.1 1080.0,326.5 1081.2,326.9 1082.3,327.3 1083.4,327.7 1084.6,328.1 1085.7,328.5 1086.8,328.9 1087.9,329.3 1089.0,329.6 1090.0,330.0 1091.1,330.4 1092.2,330.8 1093.2,331.2 1094.2,331.6 1095.3,331.9 1096.3,332.3 1097.3,332.8 1098.3,333.2 1099.3,333.6 1100.3,334.1 1101.3,334.5 1102.2,335.0 1103.2,335.5 1104.1,336.0 1105.1,336.6 1106.0,337.1 1106.9,337.8 1107.8,338.5 1108.7,339.2 1109.5,340.0 1110.4,340.8 1111.2,341.6 1112.0,342.4 1112.8,343.3 1113.6,344.1 1114.4,345.0 1115.2,345.9 1115.9,346.8 1116.7,347.7 1117.4,348.6 1118.1,349.6 1118.8,350.6 1119.5,351.7 1120.2,352.8 1120.9,354.0 1121.5,355.2 1122.2,356.5 1122.8,357.7 1123.4,358.8 1124.0,360.0 1124.5,361.1 1125.1,362.1 1125.6,363.2 1126.1,364.2 1126.6,365.2 1127.0,366.1 1127.5,367.0 1127.9,367.8 1128.3,368.6 1128.7,369.4 1129.1,370.1 1129.5,370.8 1129.9,371.4 1130.2,372.0 1130.5,372.5 1130.9,373.0 1131.2,373.5 1131.5,373.9 1131.7,374.4 1132.0,374.7 1132.3,375.1 1132.5,375.4 1132.8,375.7 1133.0,376.0 1133.2,376.3 1133.4,376.6 1133.6,376.8 1133.8,377.0 1134.0,377.2 679.0,374.2 679.3,369.0 679.7,362.8 680.1,356.9 680.5,351.0 680.9,345.2 681.4,339.2 681.8,333.7 682.3,330.1 682.8,327.2 683.3,325.0 683.8,323.5 684.3,322.3 684.9,321.3 685.4,320.4 686.0,319.8 686.6,319.5 687.2,319.2 687.8,318.9 688.5,318.7 689.1,318.5 689.8,318.4 690.5,318.4 691.2,318.4 691.9,318.5 692.7,318.8 693.4,319.1 694.2,319.5 695.0,319.9 695.8,320.4 696.7,320.8 697.5,321.3 698.3,321.8 699.2,322.4 700.0,322.9 700.9,323.5 701.7,324.1 702.6,324.7 703.5,325.2 704.4,325.7 705.2,326.2 706.1,326.7 707.0,327.2 708.0,327.7 708.9,328.2 709.8,328.7 710.7,329.2 711.7,329.7 712.6,330.2 713.6,330.7 714.5,331.2 715.5,331.6 716.5,332.1 717.5,332.6 718.5,333.1 719.4,333.5 720.4,334.0 721.4,334.4 722.4,334.9 723.4,335.3 724.5,335.7 725.5,336.1 726.5,336.5 727.5,336.9 728.6,337.3 729.6,337.7 730.6,338.0 731.7,338.4 732.8,338.8 733.8,339.1 734.9,339.5 736.0,339.8 737.1,340.2 738.2,340.5 739.3,340.8 740.4,341.1 741.6,341.5 742.7,341.8 743.9,342.1 745.1,342.4 746.3,342.7 747.5,343.0 748.7,343.3 749.9,343.6 751.1,343.8 752.4,344.1 753.6,344.4 754.9,344.7 756.2,344.9 757.5,345.2 758.8,345.5 760.1,345.8 761.5,346.1 762.8,346.4 764.2,346.7 765.6,347.0 767.0,347.2 768.4,347.5 769.8,347.8 771.3,348.0 772.7,348.2 774.2,348.5 775.7,348.7 777.2,349.0 778.7,349.2 780.2,349.4 781.7,349.6 783.2,349.9 784.8,350.1 786.4,350.3 787.9,350.5 789.5,350.8 791.1,351.0 792.7,351.2 794.3,351.4 795.9,351.7 797.5,351.9 799.1,352.1 800.8,352.3 802.4,352.5 804.0,352.7 805.6,352.9 807.3,353.1 808.9,353.3 810.5,353.5 812.1,353.7 813.8,353.9 815.4,354.0 817.0,354.2 818.7,354.4 820.3,354.6 822.0,354.7 823.6,354.9 825.3,355.0 826.9,355.2 828.6,355.3 830.2,355.4 831.9,355.5 833.5,355.7 835.2,355.8 836.8,355.9 838.5,356.1 840.2,356.2 841.8,356.3 843.5,356.5 845.2,356.6 846.8,356.7 848.5,356.9 850.2,357.0 851.9,357.1 853.5,357.3 855.2,357.4 856.9,357.5 858.6,357.6 860.3,357.7 862.0,357.8 863.6,357.9 865.3,358.1 867.0,358.3 868.7,358.4 870.4,358.6 872.0,358.8 873.7,358.9 875.4,359.0 877.1,359.1 878.7,359.2 880.4,359.3 882.1,359.4 883.8,359.5 885.4,359.6 887.1,359.6 888.8,359.7 890.4,359.8 892.1,359.8 893.7,359.9 895.4,359.9 897.1,360.0 898.7,360.0 900.4,360.0 902.0,360.1 903.7,360.1 905.3,360.1 907.0,360.1 908.6,360.1 910.3,360.2 911.9,360.2 913.6,360.2 915.2,360.2 916.9,360.2 918.5,360.3 920.2,360.3 921.8,360.3 923.4,360.4 925.1,360.5 926.7,360.7 928.3,361.2 930.0,361.8 931.6,362.6 933.2,363.5 934.9,364.6 936.5,365.8 938.1,367.2 939.7,368.5 941.4,369.9 943.0,371.2 944.6,372.5 946.2,373.6 947.9,374.7 949.5,375.7 951.1,376.5 952.7,377.0 954.3,377.4 955.9,377.6 957.0,370.8 958.6,364.1 960.5,356.9 962.1,348.9 963.5,341.7 964.8,334.7 966.2,328.6 967.9,323.7 969.7,320.0 971.3,317.4 972.9,315.5 974.5,314.2 976.1,313.4 977.7,312.8 979.3,312.4 980.9,312.2 982.4,312.0 984.0,312.0 985.6,312.2 987.2,312.6 988.8,313.0 990.4,313.3 992.0,313.7 993.6,314.0 995.1,314.4 996.7,314.8 998.3,315.2 999.9,315.7 1001.4,316.3 1003.0,316.9 1004.6,317.6 1006.1,318.2 1007.6,318.8 1009.2,319.3 1010.7,319.8 1012.2,320.3 1013.7,320.7 1015.3,321.2 1016.8,321.6 1018.2,322.0 1019.7,322.5 1021.2,322.9 1022.7,323.2 1024.2,323.6 1025.6,324.0 1027.1,324.3 1028.5,324.7 1030.0,325.1 1031.4,325.4 1032.8,325.8 1034.2,326.3 1035.7,326.7 1037.1,327.0 1038.5,327.3 1039.9,327.6 1041.3,327.8 1042.6,327.9 1044.0,328.1 1045.4,328.2 1046.8,328.3 1048.1,328.4 1049.5,328.5 1050.8,328.6 1052.2,328.7 1053.5,328.8 1054.8,328.9 1056.2,329.1 1057.5,329.2 1058.8,329.3 1060.1,329.4 1061.4,329.6 1062.7,329.8 1064.0,329.9 1065.3,330.1 1066.5,330.2 1067.8,330.2 1069.1,330.3 1070.3,330.3 1071.6,330.3 1072.8,330.3 1074.0,330.3 1075.2,330.3 1076.4,330.3 1077.6,330.3 1078.8,330.3 1079.9,330.3 1081.1,330.2 1082.2,330.1 1083.4,329.9 1084.5,329.6 1085.6,329.3 1086.7,329.0 1087.8,328.7 1088.9,328.4 1090.0,328.1 1091.1,327.9 1092.1,327.6 1093.2,327.3 1094.2,327.0 1095.2,326.8 1096.2,326.4 1097.3,326.1 1098.3,325.7 1099.3,325.4 1100.2,324.9 1101.2,324.4 1102.2,323.9 1103.2,323.3 1104.1,322.7 1105.0,322.0 1106.0,321.4 1106.9,320.8 1107.8,320.2 1108.6,319.7 1109.5,319.2 1110.3,318.6 1111.2,318.1 1112.0,317.6 1112.8,317.0 1113.6,316.5 1114.4,315.9 1115.1,315.3 1115.9,314.6 1116.6,314.0 1117.4,313.3 1118.1,312.6 1118.8,311.9 1119.5,311.2 1120.2,310.4 1120.8,309.7 1121.5,308.8 1122.1,307.9 1122.8,307.0 1123.4,306.0 1124.0,305.1 1124.5,304.1 1125.1,303.2 1125.6,302.3 1126.1,301.4 1126.6,300.6 1127.0,299.8 1127.5,299.0 1127.9,298.1 1128.3,297.3 1128.7,296.4 1129.1,295.4 1129.5,294.3 1129.8,293.2 1130.2,292.0 1130.5,290.8 1130.8,289.7 1131.1,288.6 1131.4,287.5 1131.7,286.4 1132.0,285.3 1132.3,284.1 1132.5,282.9 1132.8,281.7 1133.0,280.5 1133.2,279.1 1133.4,277.7 1133.6,276.2 1133.8,274.6 1134.0,272.9 1134.2,270.9 1134.4,268.7 1134.5,266.4 1134.7,264.1 1134.8,356.9 1134.9,334.7 1135.1,312.6 1134.8,290.5 1134.9,268.3" marker-start="url(#m3)" marker-mid="url(#m3)" marker-end="url(#m3)"/>
<polyline points="678.0,364.9 678.0,348.4 677.9,331.9 677.9,315.5 677.8,299.0 677.7,282.5 677.6,266.0 677.5,249.5 677.3,233.0 677.0,216.6 676.6,200.1 676.4,190.7 676.4,189.2 676.4,187.6 676.4,186.1 676.3,184.6 676.3,183.1 676.3,181.5 676.3,180.0 676.3,178.5 676.3,176.9 676.2,175.4 676.2,173.9 676.2,172.4 676.2,170.8 676.2,169.3 676.2,167.8 676.1,166.2 676.1,164.7 676.1,163.2 676.1,161.7 676.1,160.1 676.1,158.6 676.1,157.1 676.0,155.5 676.0,154.0 676.0,152.5 676.0,151.0 676.0,149.4 676.0,147.9 675.9,146.4 675.9,144.8 675.9,143.3 675.9,141.8 675.9,140.3 675.9,138.7 675.9,137.2 675.9,135.7 675.9,134.1 675.9,132.6 675.9,131.1 675.9,129.6 675.9,128.0 675.8,126.5 675.8,125.0 675.8,123.4 675.8,121.9 675.8,120.4 675.8,118.8 675.8,117.3 675.8,115.8 675.8,114.3 675.8,112.7 675.8,111.2 675.8,109.7 675.7,108.1 675.7,106.6 675.7,105.1 675.7,103.6 675.7,102.0 675.7,100.5 675.7,99.0 675.7,97.4 675.7,95.9 675.7,94.4 676.4,157.3 676.5,161.3 676.6,164.3 676.7,167.0 676.8,169.4 676.9,171.5 677.0,173.4 677.1,175.1 677.3,176.8 677.4,178.4 677.5,180.0 677.7,181.5 677.8,183.0 678.0,184.5 678.2,186.0 678.4,187.4 678.6,189.0 678.8,190.7 679.0,192.7 679.3,194.9 679.5,197.4 679.8,200.0 680.1,202.7 680.4,205.2 680.8,207.5 681.1,209.6 681.4,211.7 681.8,213.7 682.1,215.7 682.5,217.6 682.9,219.5 683.2,221.5 683.6,223.6 684.0,225.8 684.4,228.2 684.8,230.6 685.2,233.1 685.7,235.6 686.1,238.2 686.6,240.8 687.0,243.4 687.5,246.0 687.9,248.4 688.4,250.9 688.9,253.3 689.4,255.8 689.9,258.2 690.4,260.5 691.0,262.8 691.5,265.1 692.1,267.1 692.6,269.0 693.2,270.8 693.8,272.6 694.4,274.4 695.0,276.2 695.6,278.0 696.2,279.8 696.8,281.7 697.5,283.5 698.1,285.4 698.7,287.2 699.4,289.0 700.0,290.7 700.6,292.3 701.3,293.7 701.9,295.0 702.6,296.3 703.2,297.5 703.9,298.6 704.6,299.8 705.2,301.1 705.9,302.8 706.6,304.5 707.3,306.0 708.0,306.9 708.6,305.0 709.3,294.9 709.8,276.6 710.6,250.0 711.5,219.4 712.3,189.7 713.2,163.6 713.9,142.2 714.6,126.9 715.4,115.3 716.3,106.5 716.9,100.0 717.8,93.7 718.5,90.9 719.2,88.9 720.0,87.7 720.7,87.2 721.5,86.8 722.2,86.5 723.0,86.3 723.8,86.3 724.5,86.6 725.3,87.1 726.0,87.7 726.8,88.3 727.6,89.0 728.4,89.7 729.1,90.5 729.9,91.4 730.7,92.4 731.5,93.3 732.3,94.3 733.1,95.3 733.9,96.3 734.7,97.3 735.5,98.4 736.3,99.5 737.2,100.6 738.0,101.8 738.8,102.9 739.7,104.1 740.5,105.3 741.4,106.5 742.2,107.7 743.1,108.9 744.0,110.2 744.9,111.4 745.8,112.7 746.6,113.9 747.5,115.1 748.5,116.2 749.4,117.4 750.3,118.6 751.2,119.7 752.2,120.8 753.1,122.0 754.1,123.1 755.0,124.2 756.0,125.4 756.9,126.5 757.9,127.6 758.9,128.8 759.9,129.9 760.9,131.1 761.9,132.2 763.0,133.4 764.0,134.6 765.0,135.8 766.1,137.0 767.1,138.2 768.2,139.3 769.2,140.5 770.3,141.6 771.4,142.7 772.5,143.8 773.6,144.8 774.7,145.9 775.8,146.9 776.9,148.0 778.1,149.0 779.2,150.0 780.3,151.0 781.5,152.1 782.6,153.1 783.8,154.1 785.0,155.1 786.1,156.1 787.3,157.1 788.5,158.1 789.7,159.0 790.9,159.9 792.1,160.9 793.3,161.7 794.5,162.6 795.7,163.5 796.9,164.3 798.1,165.2 799.3,166.0 800.5,166.9 801.8,167.9 803.0,168.8 804.2,169.7 805.4,170.7 806.6,171.7 807.8,172.6 809.1,173.5 810.3,174.5 811.5,175.4 812.7,176.3 814.0,177.1 815.2,178.0 816.4,178.9 817.6,179.7 818.9,180.6 820.1,181.6 821.3,182.5 822.6,183.4 823.8,184.4 825.0,185.4 826.3,186.6 827.5,187.8 828.8,189.2 830.0,190.6 831.2,192.0 832.5,193.5 833.7,194.9 835.0,196.3 836.2,197.7 837.5,199.1 838.7,200.5 839.9,201.8 841.2,203.1 842.4,204.4 843.7,205.9 844.9,207.5 846.2,209.4 847.5,211.3 848.7,213.3 850.0,215.4 851.2,217.3 852.5,219.1 853.7,220.8 855.0,222.3 856.3,223.7 857.5,225.0 858.8,226.3 860.1,227.6 861.3,229.0 862.6,230.4 863.8,231.9 865.1,233.5 866.4,235.0 867.6,236.5 868.9,237.9 870.2,239.4 871.4,240.8 872.7,242.2 873.9,243.6 875.2,244.8 876.4,246.1 877.7,247.2 878.9,248.4 880.2,249.5 881.5,250.6 882.7,251.6 884.0,252.7 885.2,253.7 886.5,254.7 887.7,255.6 889.0,256.5 890.2,257.4 891.5,258.2 892.7,259.1 893.9,259.9 895.2,260.6 896.4,261.4 897.7,262.1 898.9,262.8 900.2,263.5 901.4,264.1 902.6,264.8 903.9,265.4 905.1,266.0 906.4,266.6 907.6,267.2 908.8,267.8 910.1,268.4 911.3,269.0 912.5,269.5 913.8,270.1 915.0,270.6 916.2,271.2 917.5,271.7 918.7,272.2 919.9,272.8 921.2,273.3 922.4,273.8 923.6,274.3 924.8,274.8 926.1,275.2 927.3,275.7 928.5,276.2 929.8,276.6 931.0,277.1 932.2,277.5 933.4,278.0 934.6,278.5 935.9,278.9 937.1,279.4 938.3,279.8 939.5,280.3 940.7,280.7 942.0,281.2 943.2,281.6 944.4,282.0 945.6,282.4 946.8,282.8 948.0,283.2 949.2,283.6 950.5,284.0 951.7,284.3 952.9,284.7 954.1,285.1 955.3,285.5 956.5,285.9 957.7,286.4 958.9,286.8 960.1,287.2 961.3,287.6 962.6,288.0 963.8,288.4 965.0,288.7 966.2,289.1 967.4,289.5 968.6,289.8 969.8,290.2 971.0,290.5 972.2,290.8 973.4,291.2 974.6,291.5 975.8,291.9 977.0,292.2 978.2,292.6 979.4,292.9 980.5,293.3 981.7,293.6 982.9,294.0 984.1,294.3 985.3,294.7 986.5,295.0 987.7,295.4 988.9,295.8 990.1,296.2 991.3,296.6 992.5,296.9 993.6,297.3 994.8,297.7 996.0,298.1 997.2,298.4 998.4,298.8 999.6,299.2 1000.8,299.6 1001.9,299.9 1003.1,300.3 1004.3,300.6 1005.4,301.0 1006.6,301.4 1007.7,301.7 1008.9,302.0 1010.0,302.4 1011.2,302.7 1012.3,303.1 1013.4,303.4 1014.6,303.7 1015.7,304.1 1016.8,304.4 1018.0,304.7 1019.1,305.0 1020.2,305.4 1021.3,305.7 1022.4,306.0 1023.5,306.4 1024.6,306.7 1025.7,307.0 1026.8,307.4 1027.9,307.7 1028.9,308.0 1030.0,308.4 1031.1,308.7 1032.2,309.0 1033.2,309.3 1034.3,309.7 1035.4,310.0 1036.4,310.3 1037.5,310.7 1038.5,311.0 1039.6,311.3 1040.6,311.7 1041.7,312.0 1042.7,312.3 1043.7,312.6 1044.8,313.0 1045.8,313.3 1046.8,313.6 1047.8,313.9 1048.9,314.2 1049.9,314.5 1050.9,314.9 1051.9,315.2 1052.9,315.5 1053.9,315.8 1054.9,316.1 1055.9,316.4 1056.9,316.7 1057.9,317.0 1058.8,317.4 1059.8,317.7 1060.8,318.0 1061.8,318.3 1062.7,318.6 1063.7,318.9 1064.7,319.2 1065.6,319.5 1066.6,319.8 1067.5,320.2 1068.5,320.5 1069.4,320.8 1070.4,321.2 1071.3,321.5 1072.2,321.8 1073.1,322.2 1074.0,322.5 1075.0,322.9 1075.9,323.2 1076.7,323.6 1077.6,323.9 1078.5,324.2 1079.4,324.6 1080.3,324.9 1081.1,325.2 1082.0,325.5 1082.8,325.8 1083.7,326.1 1084.5,326.4 1085.4,326.7 1086.2,327.0 1087.0,327.3 1087.8,327.6 1088.7,327.9 1089.5,328.2 1090.3,328.5 1091.1,328.7 1091.9,329.0 1092.6,329.3 1093.4,329.6 1094.2,329.8 1095.0,330.1 1095.7,330.3 1096.5,330.6 1097.3,330.9 1098.0,331.2 1098.8,331.5 1099.5,331.8 1100.2,332.1 1101.0,332.4 1101.7,332.7 1102.4,333.0 1103.1,333.3 1103.9,333.7 1104.6,334.1 1105.3,334.4 1106.0,334.8 1106.6,335.3 1107.3,335.8 1108.0,336.3 1108.6,336.8 1109.3,337.4 1109.9,338.0 1110.5,338.6 1111.2,339.2 1111.8,339.8 1112.4,340.4 1113.0,341.0 1113.6,341.7 1114.2,342.3 1114.7,342.9 1115.3,343.6 1115.9,344.3 1116.4,345.0 1117.0,345.7 1117.5,346.4 1118.1,347.2 1118.6,348.0 1119.1,348.8 1119.6,349.6 1120.1,350.5 1120.6,351.4 1121.1,352.4 1121.6,353.4 1122.1,354.4 1122.6,355.4 1123.0,356.3 1123.5,357.2 1123.9,358.1 1124.3,359.0 1124.7,359.9 1125.1,360.7 1125.5,361.5 1125.9,362.3 1126.3,363.1 1126.6,363.9 1127.0,364.6 1127.3,365.3 1127.6,366.0 1128.0,366.7 1128.3,367.3 1128.6,367.9 1128.9,368.5 1129.2,369.1 1129.4,369.6 1129.7,370.1 1130.0,370.5 1130.2,371.0 1130.5,371.4 1130.7,371.8 1131.0,372.2 1131.2,372.6 1131.4,372.9 1131.6,373.2 1131.8,373.5 1132.0,373.8 1132.2,374.1 1132.4,374.3 1132.6,374.6 1132.8,374.8 1133.0,375.0 1133.1,375.2 1133.3,375.4 1133.4,375.6 1133.6,375.8 1133.7,376.0 1133.9,376.1 1134.0,376.3 678.8,377.7 679.0,374.3 679.2,370.4 679.5,365.9 679.8,361.2 680.1,356.8 680.4,352.3 680.7,347.9 681.1,343.6 681.4,339.1 681.7,334.9 682.1,331.7 682.4,329.3 682.8,327.2 683.2,325.5 683.6,324.3 684.0,323.4 684.4,322.5 684.8,321.7 685.2,321.1 685.6,320.5 686.0,320.1 686.5,319.8 686.9,319.6 687.4,319.4 687.9,319.2 688.4,319.1 688.8,318.9 689.3,318.8 689.9,318.7 690.4,318.7 690.9,318.7 691.4,318.8 692.0,318.9 692.6,319.0 693.1,319.3 693.7,319.5 694.3,319.8 694.9,320.1 695.5,320.4 696.1,320.7 696.8,321.0 697.4,321.3 698.0,321.7 698.6,322.1 699.3,322.5 699.9,322.9 700.5,323.4 701.2,323.8 701.8,324.2 702.5,324.6 703.1,325.0 703.8,325.4 704.5,325.8 705.1,326.2 705.8,326.5 706.5,326.9 707.2,327.3 707.9,327.7 708.5,328.1 709.2,328.4 709.9,328.8 710.6,329.2 711.3,329.5 712.0,329.9 712.8,330.3 713.5,330.6 714.2,331.0 714.9,331.3 715.7,331.7 716.4,332.1 717.1,332.4 717.9,332.8 718.6,333.1 719.3,333.5 720.1,333.8 720.8,334.2 721.6,334.5 722.3,334.8 723.1,335.1 723.9,335.5 724.6,335.8 725.4,336.1 726.1,336.4 726.9,336.7 727.7,337.0 728.5,337.3 729.2,337.5 730.0,337.8 730.8,338.1 731.6,338.4 732.4,338.6 733.2,338.9 734.0,339.2 734.8,339.4 735.6,339.7 736.4,340.0 737.3,340.2 738.1,340.5 738.9,340.7 739.8,341.0 740.6,341.2 741.5,341.4 742.3,341.7 743.2,341.9 744.1,342.1 745.0,342.4 745.9,342.6 746.8,342.8 747.7,343.1 748.6,343.3 749.5,343.5 750.4,343.7 751.3,343.9 752.3,344.1 753.2,344.3 754.2,344.5 755.1,344.7 756.1,344.9 757.1,345.1 758.1,345.4 759.0,345.6 760.0,345.8 761.0,346.0 762.1,346.2 763.1,346.4 764.1,346.7 765.2,346.9 766.2,347.1 767.3,347.3 768.3,347.5 769.4,347.7 770.5,347.9 771.5,348.0 772.6,348.2 773.7,348.4 774.8,348.6 776.0,348.8 777.1,348.9 778.2,349.1 779.3,349.3 780.5,349.5 781.6,349.6 782.8,349.8 784.0,350.0 785.1,350.1 786.3,350.3 787.5,350.5 788.7,350.6 789.9,350.8 791.0,351.0 792.3,351.1 793.5,351.3 794.7,351.5 795.9,351.6 797.1,351.8 798.3,352.0 799.5,352.1 800.7,352.3 801.9,352.4 803.1,352.6 804.4,352.8 805.6,352.9 806.8,353.0 808.0,353.2 809.2,353.3 810.5,353.5 811.7,353.6 812.9,353.8 814.1,353.9 815.4,354.0 816.6,354.2 817.8,354.3 819.0,354.4 820.3,354.6 821.5,354.7 822.7,354.8 824.0,354.9 825.2,355.0 826.4,355.1 827.7,355.2 828.9,355.3 830.2,355.4 831.4,355.5 832.6,355.6 833.9,355.7 835.1,355.8 836.4,355.9 837.6,356.0 838.9,356.1 840.1,356.2 841.4,356.3 842.6,356.4 843.9,356.5 845.1,356.6 846.4,356.7 847.6,356.8 848.9,356.9 850.1,357.0 851.4,357.1 852.6,357.2 853.9,357.3 855.2,357.4 856.4,357.5 857.7,357.6 859.0,357.6 860.2,357.7 861.5,357.8 862.7,357.9 864.0,358.0 865.3,358.1 866.5,358.2 867.8,358.3 869.1,358.5 870.3,358.6 871.6,358.7 872.8,358.8 874.1,358.9 875.3,359.0 876.6,359.1 877.9,359.2 879.1,359.3 880.4,359.3 881.6,359.4 882.9,359.4 884.1,359.5 885.4,359.6 886.6,359.6 887.9,359.7 889.1,359.7 890.4,359.8 891.6,359.8 892.9,359.9 894.1,359.9 895.3,359.9 896.6,360.0 897.8,360.0 899.1,360.0 900.3,360.0 901.6,360.1 902.8,360.1 904.0,360.1 905.3,360.1 906.5,360.1 907.8,360.1 909.0,360.1 910.2,360.2 911.5,360.2 912.7,360.2 913.9,360.2 915.2,360.2 916.4,360.2 917.6,360.3 918.9,360.3 920.1,360.3 921.3,360.3 922.6,360.4 923.8,360.4 925.0,360.4 926.2,360.6 927.5,360.9 928.7,361.4 929.9,361.8 931.1,362.3 932.4,363.0 933.6,363.7 934.8,364.5 936.0,365.4 937.2,366.3 938.5,367.3 939.7,368.3 940.9,369.3 942.1,370.3 943.3,371.2 944.6,372.1 945.8,373.0 947.0,373.8 948.2,374.6 949.4,375.3 950.6,375.9 951.8,376.4 953.0,376.7 954.3,376.9 955.5,377.1 956.7,377.2 957.9,377.3 959.1,377.3 960.3,377.3 961.5,377.2 962.7,374.5 963.9,363.6 965.1,357.6 966.3,351.1 967.5,345.3 968.7,339.7 969.9,333.8 971.1,328.9 972.3,325.1 973.5,322.3 974.7,320.2 975.9,318.6 977.1,317.1 978.3,316.3 979.5,316.0 980.7,315.9 981.9,315.8 983.1,315.7 984.3,315.6 985.5,315.5 986.7,315.4 987.9,315.4 989.1,315.3 990.2,315.3 991.4,315.3 992.6,315.3 993.8,315.4 995.0,315.5 996.2,315.7 997.4,316.0 998.5,316.2 999.7,316.5 1000.9,316.7 1002.1,317.0 1003.2,317.3 1004.4,317.6 1005.6,317.9 1006.7,318.3 1007.9,318.6 1009.0,318.9 1010.2,319.3 1011.3,319.6 1012.5,320.0 1013.6,320.3 1014.7,320.7 1015.9,321.0 1017.0,321.4 1018.1,321.7 1019.2,322.0 1020.3,322.3 1021.4,322.6 1022.5,322.9 1023.6,323.2 1024.7,323.5 1025.8,323.7 1026.9,324.0 1028.0,324.3 1029.1,324.5 1030.2,324.8 1031.2,325.1 1032.3,325.4 1033.4,325.7 1034.4,326.0 1035.5,326.3 1036.6,326.6 1037.6,326.9 1038.7,327.1 1039.7,327.3 1040.8,327.4 1041.8,327.6 1042.8,327.7 1043.9,327.8 1044.9,327.9 1045.9,327.9 1047.0,328.0 1048.0,328.1 1049.0,328.2 1050.0,328.3 1051.0,328.4 1052.0,328.4 1053.0,328.5 1054.0,328.6 1055.0,328.7 1056.0,328.7 1057.0,328.8 1058.0,328.9 1059.0,329.0 1059.9,329.1 1060.9,329.3 1061.9,329.4 1062.9,329.5 1063.8,329.6 1064.8,329.7 1065.8,329.8 1066.7,329.9 1067.7,330.0 1068.6,330.0 1069.6,330.0 1070.5,330.0 1071.4,330.0 1072.3,330.0 1073.3,330.0 1074.2,330.0 1075.1,330.0 1076.0,330.0 1076.9,330.0 1077.7,330.0 1078.6,330.0 1079.5,330.0 1080.4,330.0 1081.2,329.9 1082.1,329.8 1082.9,329.6 1083.8,329.5 1084.6,329.3 1085.5,329.1 1086.3,328.9 1087.1,328.6 1087.9,328.4 1088.8,328.2 1089.6,328.0 1090.4,327.7 1091.2,327.5 1092.0,327.3 1092.7,327.1 1093.5,326.9 1094.3,326.7 1095.1,326.5 1095.8,326.3 1096.6,326.0 1097.4,325.8 1098.1,325.5 1098.9,325.2 1099.6,324.9 1100.3,324.6 1101.1,324.2 1101.8,323.8 1102.5,323.4 1103.2,322.9 1104.0,322.5 1104.7,322.0 1105.4,321.5 1106.0,321.1 1106.7,320.6 1107.4,320.2 1108.1,319.8 1108.7,319.4 1109.4,319.0 1110.0,318.6 1110.6,318.2 1111.2,317.8 1111.9,317.4 1112.5,317.0 1113.1,316.6 1113.7,316.1 1114.2,315.7 1114.8,315.3 1115.4,314.8 1115.9,314.3 1116.5,313.8 1117.0,313.3 1117.6,312.8 1118.1,312.3 1118.6,311.8 1119.2,311.2 1119.7,310.7 1120.2,310.1 1120.7,309.5 1121.2,308.9 1121.7,308.3 1122.2,307.6 1122.6,306.9 1123.1,306.2 1123.5,305.5 1124.0,304.7 1124.4,304.0 1124.8,303.3 1125.2,302.6 1125.6,302.0 1126.0,301.3 1126.3,300.7 1126.7,300.1 1127.0,299.5 1127.4,298.9 1127.7,298.3 1128.0,297.6 1128.3,297.0 1128.6,296.3 1128.9,295.6 1129.2,294.9 1129.5,294.1 1129.7,293.2 1130.0,292.3 1130.3,291.5 1130.5,290.6 1130.7,289.7 1131.0,288.9 1131.2,288.0 1131.4,287.2 1131.6,286.4 1131.9,285.6 1132.1,284.8 1132.2,283.9 1132.4,283.0 1132.6,282.1 1132.8,281.2 1133.0,280.3 1133.1,279.3 1133.3,278.3 1133.5,277.2 1133.6,276.1 1133.8,274.9 1133.9,273.7 1134.0,272.3 1134.2,270.8 1134.3,269.2 1134.4,267.6 1134.6,265.9 1134.7,264.1 1134.9,367.1 1135.1,348.6 1134.8,330.2 1134.9,311.7 1135.1,293.3 1134.8,274.9" marker-start="url(#m4)" marker-mid="url(#m4)" marker-end="url(#m4)"/>
<polyline points="678.0,364.3 678.0,352.9 677.9,341.4 677.9,329.9 677.9,318.4 677.8,307.0 677.8,295.5 677.7,284.0 677.7,272.5 677.6,261.1 677.5,249.6 677.4,238.1 677.2,226.7 677.0,215.2 676.7,203.8 676.5,192.3 676.4,189.2 676.4,188.2 676.4,187.1 676.4,186.1 676.4,185.1 676.4,184.0 676.4,183.0 676.3,182.0 676.3,180.9 676.3,179.9 676.3,178.9 676.3,177.8 676.3,176.8 676.3,175.8 676.3,174.8 676.3,173.7 676.2,172.7 676.2,171.7 676.2,170.6 676.2,169.6 676.2,168.6 676.2,167.5 676.2,166.5 676.2,165.5 676.2,164.4 676.1,163.4 676.1,162.4 676.1,161.3 676.1,160.3 676.1,159.3 676.1,158.3 676.1,157.2 676.1,156.2 676.1,155.2 676.0,154.1 676.0,153.1 676.0,152.1 676.0,151.0 676.0,150.0 676.0,149.0 676.0,147.9 676.0,146.9 676.0,145.9 676.0,144.8 676.0,143.8 675.9,142.8 675.9,141.8 675.9,140.7 675.9,139.7 675.9,138.7 675.9,137.6 675.9,136.6 675.9,135.6 675.9,134.5 675.9,133.5 675.9,132.5 675.9,131.4 675.9,130.4 675.9,129.4 675.9,128.3 675.9,127.3 675.9,126.3 675.9,125.2 675.8,124.2 675.8,123.2 675.8,122.1 675.8,121.1 675.8,120.1 675.8,119.1 675.8,118.0 675.8,117.0 675.8,116.0 675.8,114.9 675.8,113.9 675.8,112.9 675.8,111.8 675.8,110.8 675.8,109.8 675.8,108.7 675.8,107.7 675.8,106.7 675.7,105.6 675.7,104.6 675.7,103.6 675.7,102.5 675.7,101.5 675.7,100.5 675.7,99.5 675.7,98.4 675.7,97.4 675.7,96.4 675.7,95.3 675.7,94.3 675.7,93.3 675.7,92.2 675.7,91.2 675.8,94.8 675.8,102.8 675.9,110.4 675.9,117.6 676.0,123.8 676.0,129.9 676.1,135.9 676.1,141.8 676.2,147.4 676.3,152.4 676.3,156.6 676.4,159.7 676.5,161.9 676.5,164.0 676.6,165.9 676.7,167.6 676.8,169.2 676.8,170.6 676.9,172.0 677.0,173.2 677.1,174.4 677.2,175.5 677.2,176.6 677.3,177.7 677.4,178.8 677.5,179.9 677.6,180.9 677.7,182.0 677.8,183.0 677.9,184.0 678.1,184.9 678.2,185.9 678.3,186.9 678.4,187.9 678.6,189.0 678.7,190.1 678.9,191.3 679.0,192.7 679.2,194.2 679.4,195.8 679.6,197.5 679.7,199.2 679.9,201.0 680.1,202.8 680.4,204.5 680.6,206.1 680.8,207.6 681.0,209.1 681.2,210.5 681.5,211.9 681.7,213.2 681.9,214.5 682.2,215.8 682.4,217.1 682.7,218.4 682.9,219.7 683.1,221.1 683.4,222.4 683.7,223.8 683.9,225.3 684.2,226.8 684.5,228.4 684.7,230.0 685.0,231.7 685.3,233.3 685.6,235.0 685.9,236.8 686.2,238.5 686.5,240.2 686.8,241.9 687.1,243.5 687.4,245.1 687.7,246.7 688.0,248.3 688.3,249.9 688.6,251.5 689.0,253.1 689.3,254.7 689.7,256.2 690.0,257.8 690.3,259.3 690.7,260.8 691.1,262.3 691.4,263.7 691.8,265.1 692.2,266.4 692.5,267.6 692.9,268.8 693.3,270.0 693.7,271.1 694.1,272.2 694.5,273.3 694.9,274.4 695.3,275.5 695.7,276.7 696.1,277.9 696.5,279.0 696.9,280.2 697.4,281.4 697.8,282.5 698.2,283.7 698.6,284.8 699.0,286.0 699.5,287.1 699.9,288.2 700.3,289.3 700.7,290.2 701.2,291.1 701.6,291.9 702.0,292.7 702.5,293.4 702.9,294.2 703.4,294.9 703.8,295.6 704.2,296.3 704.7,297.1 705.1,297.9 705.6,298.7 706.0,299.5 706.5,300.3 706.9,301.2 707.4,302.0 707.9,302.8 708.3,303.6 708.8,304.4 709.2,305.1 709.7,305.7 710.2,306.4 710.6,307.0 711.1,307.6 711.6,308.1 712.0,308.7 712.5,309.3 713.0,309.8 713.5,310.4 714.0,311.0 714.4,311.6 714.9,312.2 715.4,312.8 715.9,313.4 716.4,314.0 716.9,314.6 717.4,315.3 717.9,315.9 718.4,316.5 718.9,317.2 719.3,317.9 719.8,318.7 720.3,319.4 720.8,320.1 721.3,320.6 721.8,321.0 722.3,321.1 722.9,319.1 723.5,311.3 724.3,296.9 724.6,275.7 725.0,251.7 725.6,227.7 726.4,204.8 727.0,186.5 727.5,171.3 727.9,158.2 728.5,147.7 729.4,138.4 730.1,130.3 731.2,122.5 731.8,118.3 732.3,114.7 732.9,110.7 733.4,107.4 733.9,105.2 734.5,103.3 735.0,101.9 735.6,101.1 736.1,100.7 736.6,100.3 737.2,100.0 737.8,99.7 738.3,99.6 738.9,99.5 739.4,99.6 740.0,99.7 740.6,99.9 741.1,100.1 741.7,100.3 742.3,100.6 742.9,100.8 743.4,101.1 744.0,101.5 744.6,101.9 745.2,102.3 745.8,102.7 746.4,103.2 747.0,103.7 747.6,104.3 748.2,105.0 748.8,105.8 749.4,106.6 750.0,107.4 750.7,108.2 751.3,109.1 751.9,109.9 752.5,110.7 753.2,111.5 753.8,112.4 754.4,113.3 755.1,114.1 755.7,115.0 756.4,115.9 757.0,116.8 757.7,117.6 758.3,118.5 759.0,119.3 759.7,120.2 760.3,121.1 761.0,122.0 761.7,122.9 762.3,123.9 763.0,124.8 763.7,125.8 764.4,126.8 765.1,127.8 765.8,128.8 766.5,129.8 767.2,130.7 767.9,131.7 768.6,132.7 769.3,133.6 770.1,134.5 770.8,135.4 771.5,136.2 772.2,137.1 773.0,138.0 773.7,138.8 774.4,139.7 775.2,140.5 775.9,141.3 776.7,142.1 777.4,142.9 778.2,143.7 778.9,144.5 779.7,145.3 780.5,146.1 781.2,146.9 782.0,147.6 782.8,148.4 783.5,149.1 784.3,149.9 785.1,150.6 785.9,151.4 786.7,152.1 787.4,152.8 788.2,153.5 789.0,154.2 789.8,154.9 790.6,155.6 791.4,156.3 792.2,156.9 793.0,157.6 793.8,158.2 794.6,158.8 795.4,159.5 796.2,160.1 797.0,160.7 797.8,161.3 798.7,162.0 799.5,162.6 800.3,163.2 801.1,163.9 801.9,164.5 802.7,165.1 803.5,165.8 804.3,166.4 805.1,167.0 805.9,167.7 806.8,168.3 807.6,168.9 808.4,169.5 809.2,170.1 810.0,170.8 810.8,171.4 811.6,171.9 812.5,172.5 813.3,173.1 814.1,173.7 814.9,174.2 815.7,174.8 816.6,175.4 817.4,175.9 818.2,176.5 819.0,177.1 819.8,177.7 820.7,178.4 821.5,179.0 822.3,179.6 823.1,180.2 823.9,180.9 824.8,181.5 825.6,182.3 826.4,183.0 827.2,183.9 828.1,184.8 828.9,185.7 829.7,186.7 830.5,187.7 831.4,188.7 832.2,189.6 833.0,190.5 833.9,191.5 834.7,192.4 835.5,193.3 836.3,194.2 837.2,195.1 838.0,196.0 838.8,196.9 839.7,197.8 840.5,198.7 841.3,199.5 842.2,200.4 843.0,201.3 843.8,202.3 844.7,203.4 845.5,204.6 846.3,205.9 847.2,207.3 848.0,208.7 848.9,210.1 849.7,211.6 850.5,213.0 851.4,214.3 852.2,215.6 853.0,216.8 853.9,217.9 854.7,218.9 855.6,219.9 856.4,220.8 857.2,221.6 858.1,222.5 858.9,223.3 859.8,224.2 860.6,225.1 861.5,226.0 862.3,227.0 863.1,228.0 864.0,229.0 864.8,230.1 865.7,231.1 866.5,232.1 867.4,233.1 868.2,234.1 869.0,235.1 869.9,236.1 870.7,237.1 871.5,238.1 872.4,239.0 873.2,240.0 874.1,240.9 874.9,241.8 875.7,242.7 876.6,243.5 877.4,244.3 878.2,245.1 879.1,245.9 879.9,246.6 880.8,247.4 881.6,248.1 882.4,248.8 883.3,249.5 884.1,250.2 884.9,250.9 885.8,251.5 886.6,252.2 887.4,252.8 888.3,253.4 889.1,254.0 889.9,254.6 890.8,255.2 891.6,255.7 892.4,256.3 893.2,256.8 894.1,257.4 894.9,257.9 895.7,258.4 896.6,258.9 897.4,259.4 898.2,259.8 899.1,260.3 899.9,260.8 900.7,261.2 901.5,261.7 902.4,262.1 903.2,262.5 904.0,262.9 904.8,263.3 905.7,263.7 906.5,264.1 907.3,264.5 908.1,264.9 909.0,265.3 909.8,265.7 910.6,266.0 911.4,266.4 912.3,266.8 913.1,267.1 913.9,267.5 914.7,267.8 915.6,268.1 916.4,268.5 917.2,268.8 918.0,269.1 918.8,269.5 919.7,269.8 920.5,270.1 921.3,270.4 922.1,270.8 922.9,271.1 923.8,271.4 924.6,271.7 925.4,272.0 926.2,272.3 927.0,272.6 927.8,272.9 928.7,273.2 929.5,273.5 930.3,273.8 931.1,274.1 931.9,274.4 932.7,274.7 933.6,275.0 934.4,275.3 935.2,275.6 936.0,275.9 936.8,276.2 937.6,276.5 938.4,276.8 939.2,277.1 940.1,277.4 940.9,277.6 941.7,277.9 942.5,278.2 943.3,278.4 944.1,278.7 944.9,279.0 945.7,279.2 946.5,279.5 947.4,279.7 948.2,280.0 949.0,280.2 949.8,280.5 950.6,280.7 951.4,281.0 952.2,281.2 953.0,281.5 953.8,281.7 954.6,282.0 955.4,282.3 956.2,282.6 957.0,282.8 957.9,283.1 958.7,283.4 959.5,283.7 960.3,283.9 961.1,284.2 961.9,284.5 962.7,284.8 963.5,285.0 964.3,285.3 965.1,285.5 965.9,285.8 966.7,286.0 967.5,286.2 968.3,286.5 969.1,286.7 969.9,286.9 970.7,287.2 971.5,287.4 972.3,287.6 973.1,287.9 973.9,288.1 974.7,288.3 975.5,288.6 976.3,288.8 977.1,289.0 977.9,289.3 978.7,289.5 979.5,289.8 980.3,290.0 981.1,290.2 981.9,290.5 982.7,290.7 983.5,290.9 984.3,291.2 985.0,291.4 985.8,291.7 986.6,291.9 987.4,292.2 988.2,292.5 989.0,292.7 989.8,293.0 990.6,293.3 991.4,293.5 992.2,293.8 993.0,294.1 993.8,294.3 994.6,294.6 995.4,294.9 996.1,295.1 996.9,295.4 997.7,295.7 998.5,295.9 999.3,296.2 1000.1,296.4 1000.9,296.7 1001.7,297.0 1002.4,297.2 1003.2,297.5 1004.0,297.7 1004.8,298.0 1005.5,298.2 1006.3,298.5 1007.1,298.7 1007.8,299.0 1008.6,299.2 1009.4,299.5 1010.1,299.7 1010.9,299.9 1011.7,300.2 1012.4,300.4 1013.2,300.6 1013.9,300.9 1014.7,301.1 1015.4,301.3 1016.2,301.6 1016.9,301.8 1017.7,302.0 1018.4,302.3 1019.2,302.5 1019.9,302.7 1020.7,302.9 1021.4,303.2 1022.1,303.4 1022.9,303.6 1023.6,303.8 1024.3,304.1 1025.1,304.3 1025.8,304.5 1026.5,304.7 1027.2,305.0 1028.0,305.2 1028.7,305.4 1029.4,305.6 1030.1,305.8 1030.8,306.1 1031.6,306.3 1032.3,306.5 1033.0,306.7 1033.7,306.9 1034.4,307.2 1035.1,307.4 1035.8,307.6 1036.5,307.8 1037.2,308.0 1037.9,308.2 1038.6,308.5 1039.3,308.7 1040.0,308.9 1040.7,309.1 1041.4,309.3 1042.1,309.5 1042.8,309.7 1043.5,310.0 1044.2,310.2 1044.9,310.4 1045.5,310.6 1046.2,310.8 1046.9,311.0 1047.6,311.2 1048.3,311.4 1048.9,311.7 1049.6,311.9 1050.3,312.1 1051.0,312.3 1051.6,312.5 1052.3,312.7 1053.0,312.9 1053.6,313.1 1054.3,313.3 1055.0,313.5 1055.6,313.7 1056.3,313.9 1056.9,314.2 1057.6,314.4 1058.3,314.6 1058.9,314.8 1059.6,315.0 1060.2,315.2 1060.9,315.3 1061.5,315.5 1062.2,315.7 1062.8,315.9 1063.5,316.1 1064.1,316.3 1064.7,316.5 1065.4,316.7 1066.0,316.9 1066.7,317.1 1067.3,317.3 1067.9,317.5 1068.6,317.7 1069.2,317.9 1069.8,318.1 1070.4,318.4 1071.0,318.6 1071.7,318.8 1072.3,319.0 1072.9,319.2 1073.5,319.5 1074.1,319.7 1074.7,319.9 1075.3,320.1 1075.9,320.4 1076.5,320.6 1077.1,320.8 1077.7,321.0 1078.3,321.3 1078.9,321.5 1079.4,321.7 1080.0,321.9 1080.6,322.1 1081.2,322.3 1081.7,322.6 1082.3,322.8 1082.9,323.0 1083.4,323.2 1084.0,323.4 1084.6,323.7 1085.1,323.9 1085.7,324.1 1086.2,324.3 1086.8,324.5 1087.3,324.7 1087.9,324.9 1088.4,325.1 1089.0,325.3 1089.5,325.5 1090.0,325.7 1090.6,325.8 1091.1,326.0 1091.6,326.2 1092.1,326.3 1092.7,326.5 1093.2,326.7 1093.7,326.8 1094.2,327.0 1094.7,327.1 1095.3,327.2 1095.8,327.4 1096.3,327.5 1096.8,327.7 1097.3,327.8 1097.8,328.0 1098.3,328.1 1098.8,328.3 1099.3,328.5 1099.8,328.6 1100.3,328.8 1100.8,329.0 1101.2,329.1 1101.7,329.3 1102.2,329.4 1102.7,329.6 1103.2,329.8 1103.6,330.0 1104.1,330.2 1104.6,330.4 1105.0,330.6 1105.5,330.8 1106.0,331.0 1106.4,331.3 1106.9,331.6 1107.3,331.9 1107.8,332.2 1108.2,332.5 1108.6,332.9 1109.1,333.3 1109.5,333.6 1109.9,334.0 1110.3,334.4 1110.7,334.8 1111.2,335.2 1111.6,335.6 1112.0,336.0 1112.4,336.4 1112.8,336.8 1113.2,337.2 1113.6,337.6 1114.0,338.1 1114.3,338.5 1114.7,338.9 1115.1,339.4 1115.5,339.8 1115.9,340.3 1116.2,340.8 1116.6,341.3 1117.0,341.8 1117.3,342.3 1117.7,342.8 1118.0,343.3 1118.4,343.8 1118.7,344.4 1119.1,344.9 1119.4,345.5 1119.8,346.2 1120.1,346.8 1120.4,347.5 1120.8,348.2 1121.1,348.9 1121.4,349.6 1121.8,350.4 1122.1,351.1 1122.4,351.8 1122.7,352.5 1123.0,353.2 1123.3,353.9 1123.6,354.5 1123.9,355.2 1124.2,355.8 1124.4,356.4 1124.7,357.1 1125.0,357.7 1125.2,358.3 1125.5,358.9 1125.8,359.5 1126.0,360.1 1126.2,360.7 1126.5,361.2 1126.7,361.8 1126.9,362.3 1127.2,362.8 1127.4,363.3 1127.6,363.8 1127.8,364.2 1128.0,364.7 1128.2,365.2 1128.4,365.6 1128.6,366.1 1128.8,366.5 1129.0,366.9 1129.2,367.3 1129.4,367.7 1129.6,368.1 1129.8,368.4 1129.9,368.8 1130.1,369.1 1130.3,369.5 1130.4,369.8 1130.6,370.0 1130.8,370.3 1130.9,370.6 1131.1,370.8 1131.2,371.0 1131.4,371.3 1131.5,371.5 1131.6,371.7 1131.8,371.9 1131.9,372.1 1132.1,372.3 1132.2,372.5 1132.3,372.6 1132.4,372.8 1132.6,373.0 1132.7,373.1 1132.8,373.3 1132.9,373.4 1133.0,373.6 1133.1,373.7 1133.2,373.8 1133.4,373.9 1133.5,374.1 1133.6,374.2 1133.7,374.3 1133.8,374.4 1133.9,374.5 1133.9,374.6 1134.0,374.7 1134.1,374.8 1134.2,374.8 678.8,377.5 679.0,375.2 679.1,372.7 679.3,369.9 679.5,366.9 679.6,363.8 679.8,360.7 680.0,357.7 680.2,354.7 680.5,351.8 680.7,348.9 680.9,346.0 681.1,343.1 681.3,340.0 681.6,337.1 681.8,334.5 682.0,332.4 682.3,330.8 682.5,329.2 682.8,327.9 683.0,326.7 683.3,325.7 683.5,324.9 683.8,324.2 684.0,323.7 684.3,323.1 684.6,322.6 684.9,322.1 685.1,321.7 685.4,321.3 685.7,321.0 686.0,320.7 686.3,320.5 686.6,320.4 686.9,320.2 687.2,320.1 687.5,320.0 687.8,319.9 688.2,319.8 688.5,319.7 688.8,319.6 689.1,319.5 689.5,319.5 689.8,319.4 690.2,319.4 690.5,319.4 690.9,319.4 691.2,319.4 691.6,319.4 692.0,319.5 692.3,319.6 692.7,319.7 693.1,319.8 693.5,320.0 693.9,320.1 694.3,320.3 694.7,320.5 695.1,320.7 695.5,320.8 695.9,321.0 696.3,321.2 696.7,321.3 697.1,321.5 697.6,321.7 698.0,322.0 698.4,322.2 698.8,322.4 699.2,322.7 699.7,323.0 700.1,323.2 700.5,323.5 700.9,323.7 701.4,324.0 701.8,324.3 702.2,324.5 702.7,324.8 703.1,325.0 703.6,325.3 704.0,325.5 704.5,325.7 704.9,326.0 705.3,326.2 705.8,326.5 706.2,326.8 706.7,327.0 707.2,327.3 707.6,327.5 708.1,327.8 708.5,328.0 709.0,328.3 709.5,328.5 709.9,328.8 710.4,329.0 710.9,329.3 711.3,329.5 711.8,329.8 712.3,330.0 712.7,330.3 713.2,330.5 713.7,330.7 714.2,331.0 714.7,331.2 715.2,331.5 715.6,331.7 716.1,331.9 716.6,332.2 717.1,332.4 717.6,332.6 718.1,332.9 718.6,333.1 719.1,333.3 719.6,333.6 720.1,333.8 720.6,334.0 721.1,334.3 721.6,334.5 722.1,334.7 722.6,334.9 723.1,335.1 723.6,335.3 724.1,335.6 724.6,335.8 725.1,336.0 725.6,336.2 726.1,336.4 726.7,336.6 727.2,336.8 727.7,337.0 728.2,337.2 728.7,337.3 729.2,337.5 729.8,337.7 730.3,337.9 730.8,338.1 731.3,338.3 731.9,338.5 732.4,338.6 732.9,338.8 733.5,339.0 734.0,339.2 734.5,339.4 735.1,339.5 735.6,339.7 736.2,339.9 736.7,340.0 737.3,340.2 737.8,340.4 738.4,340.5 738.9,340.7 739.5,340.9 740.1,341.0 740.6,341.2 741.2,341.4 741.8,341.5 742.4,341.7 742.9,341.8 743.5,342.0 744.1,342.2 744.7,342.3 745.3,342.5 745.9,342.6 746.5,342.8 747.1,342.9 747.7,343.1 748.3,343.2 748.9,343.3 749.5,343.5 750.1,343.6 750.7,343.8 751.4,343.9 752.0,344.0 752.6,344.2 753.3,344.3 753.9,344.5 754.5,344.6 755.2,344.7 755.8,344.9 756.5,345.0 757.1,345.1 757.8,345.3 758.4,345.4 759.1,345.6 759.7,345.7 760.4,345.9 761.1,346.0 761.8,346.2 762.4,346.3 763.1,346.5 763.8,346.6 764.5,346.7 765.2,346.9 765.9,347.0 766.6,347.2 767.3,347.3 768.0,347.4 768.7,347.6 769.4,347.7 770.2,347.8 770.9,347.9 771.6,348.1 772.3,348.2 773.1,348.3 773.8,348.4 774.5,348.5 775.3,348.7 776.0,348.8 776.8,348.9 777.5,349.0 778.3,349.1 779.0,349.2 779.8,349.4 780.6,349.5 781.3,349.6 782.1,349.7 782.9,349.8 783.6,349.9 784.4,350.0 785.2,350.1 786.0,350.3 786.8,350.4 787.6,350.5 788.3,350.6 789.1,350.7 789.9,350.8 790.7,350.9 791.5,351.0 792.3,351.1 793.1,351.3 793.9,351.4 794.7,351.5 795.5,351.6 796.4,351.7 797.2,351.8 798.0,351.9 798.8,352.0 799.6,352.1 800.4,352.3 801.2,352.4 802.0,352.5 802.8,352.6 803.6,352.7 804.4,352.8 805.2,352.9 806.1,353.0 806.9,353.1 807.7,353.2 808.5,353.2 809.3,353.3 810.1,353.4 810.9,353.5 811.8,353.6 812.6,353.7 813.4,353.8 814.2,353.9 815.0,354.0 815.8,354.1 816.7,354.2 817.5,354.3 818.3,354.4 819.1,354.4 819.9,354.5 820.8,354.6 821.6,354.7 822.4,354.8 823.2,354.8 824.1,354.9 824.9,355.0 825.7,355.1 826.5,355.1 827.4,355.2 828.2,355.3 829.0,355.3 829.8,355.4 830.7,355.5 831.5,355.5 832.3,355.6 833.1,355.6 834.0,355.7 834.8,355.8 835.6,355.8 836.5,355.9 837.3,356.0 838.1,356.0 839.0,356.1 839.8,356.2 840.6,356.2 841.5,356.3 842.3,356.4 843.1,356.4 844.0,356.5 844.8,356.6 845.6,356.6 846.5,356.7 847.3,356.8 848.1,356.8 849.0,356.9 849.8,357.0 850.6,357.1 851.5,357.1 852.3,357.2 853.2,357.3 854.0,357.3 854.8,357.4 855.7,357.4 856.5,357.5 857.4,357.5 858.2,357.6 859.0,357.6 859.9,357.7 860.7,357.7 861.6,357.8 862.4,357.8 863.3,357.9 864.1,358.0 864.9,358.1 865.8,358.1 866.6,358.2 867.5,358.3 868.3,358.4 869.1,358.5 870.0,358.6 870.8,358.6 871.7,358.7 872.5,358.8 873.3,358.9 874.2,358.9 875.0,359.0 875.9,359.1 876.7,359.1 877.5,359.2 878.4,359.2 879.2,359.3 880.0,359.3 880.9,359.3 881.7,359.4 882.5,359.4 883.4,359.5 884.2,359.5 885.0,359.5 885.9,359.6 886.7,359.6 887.5,359.7 888.4,359.7 889.2,359.7 890.0,359.8 890.9,359.8 891.7,359.8 892.5,359.8 893.4,359.9 894.2,359.9 895.0,359.9 895.9,359.9 896.7,360.0 897.5,360.0 898.3,360.0 899.2,360.0 900.0,360.0 900.8,360.0 901.7,360.1 902.5,360.1 903.3,360.1 904.1,360.1 905.0,360.1 905.8,360.1 906.6,360.1 907.4,360.1 908.3,360.1 909.1,360.1 909.9,360.2 910.7,360.2 911.6,360.2 912.4,360.2 913.2,360.2 914.0,360.2 914.8,360.2 915.7,360.2 916.5,360.2 917.3,360.3 918.1,360.3 919.0,360.3 919.8,360.3 920.6,360.3 921.4,360.3 922.2,360.3 923.0,360.4 923.9,360.4 924.7,360.4 925.5,360.5 926.3,360.6 927.1,360.8 928.0,361.1 928.8,361.4 929.6,361.7 930.4,362.0 931.2,362.4 932.0,362.8 932.9,363.3 933.7,363.8 934.5,364.3 935.3,364.9 936.1,365.4 936.9,366.0 937.7,366.7 938.5,367.3 939.4,368.0 940.2,368.7 941.0,369.3 941.8,369.9 942.6,370.5 943.4,371.1 944.2,371.7 945.0,372.3 945.9,372.9 946.7,373.4 947.5,373.9 948.3,374.3 949.1,374.8 949.9,375.2 950.7,375.6 951.5,376.0 952.3,376.2 953.1,376.3 953.9,376.5 954.7,376.6 955.5,376.7 956.4,376.8 957.2,376.8 958.0,376.8 958.8,376.8 959.6,376.8 960.4,376.8 961.2,376.7 962.0,376.6 962.8,376.5 963.6,376.3 964.8,371.7 965.8,364.1 966.9,358.7 968.1,352.2 969.4,345.5 970.8,339.1 972.2,332.5 974.0,326.0 974.8,324.0 975.6,322.4 976.4,321.0 977.2,319.9 978.0,318.9 978.8,318.0 979.6,317.3 980.4,316.8 981.2,316.4 982.0,316.0 982.8,315.7 983.6,315.4 984.4,315.2 985.2,315.1 986.0,315.0 986.8,315.0 987.6,315.0 988.4,315.0 989.2,315.0 990.0,315.0 990.7,315.0 991.5,315.0 992.3,315.0 993.1,315.0 993.9,315.1 994.7,315.2 995.5,315.3 996.3,315.5 997.1,315.6 997.9,315.8 998.7,316.0 999.4,316.1 1000.2,316.3 1001.0,316.5 1001.8,316.7 1002.6,316.9 1003.4,317.1 1004.1,317.3 1004.9,317.5 1005.7,317.7 1006.5,317.9 1007.2,318.1 1008.0,318.3 1008.8,318.5 1009.5,318.8 1010.3,319.0 1011.0,319.2 1011.8,319.5 1012.6,319.7 1013.3,319.9 1014.1,320.2 1014.8,320.4 1015.6,320.7 1016.3,320.9 1017.1,321.1 1017.8,321.3 1018.6,321.5 1019.3,321.8 1020.0,322.0 1020.8,322.2 1021.5,322.4 1022.3,322.5 1023.0,322.7 1023.7,322.9 1024.5,323.1 1025.2,323.3 1025.9,323.5 1026.6,323.6 1027.4,323.8 1028.1,324.0 1028.8,324.2 1029.5,324.4 1030.3,324.6 1031.0,324.7 1031.7,324.9 1032.4,325.1 1033.1,325.3 1033.8,325.6 1034.5,325.8 1035.2,326.0 1035.9,326.1 1036.6,326.3 1037.4,326.5 1038.1,326.7 1038.8,326.8 1039.4,326.9 1040.1,327.1 1040.8,327.2 1041.5,327.2 1042.2,327.3 1042.9,327.4 1043.6,327.5 1044.3,327.5 1045.0,327.6 1045.7,327.6 1046.3,327.7 1047.0,327.7 1047.7,327.8 1048.4,327.8 1049.1,327.9 1049.7,328.0 1050.4,328.0 1051.1,328.1 1051.8,328.1 1052.4,328.2 1053.1,328.2 1053.8,328.3 1054.4,328.3 1055.1,328.4 1055.7,328.4 1056.4,328.5 1057.1,328.5 1057.7,328.6 1058.4,328.7 1059.0,328.7 1059.7,328.8 1060.3,328.9 1061.0,329.0 1061.6,329.1 1062.3,329.1 1062.9,329.2 1063.6,329.3 1064.2,329.4 1064.9,329.4 1065.5,329.5 1066.1,329.6 1066.8,329.6 1067.4,329.6 1068.0,329.7 1068.7,329.7 1069.3,329.7 1069.9,329.7 1070.5,329.7 1071.2,329.7 1071.8,329.7 1072.4,329.7 1073.0,329.7 1073.6,329.7 1074.2,329.7 1074.8,329.7 1075.4,329.7 1076.0,329.7 1076.6,329.7 1077.2,329.7 1077.8,329.7 1078.4,329.7 1079.0,329.7 1079.5,329.7 1080.1,329.7 1080.7,329.6 1081.3,329.6 1081.8,329.5 1082.4,329.4 1083.0,329.3 1083.5,329.2 1084.1,329.1 1084.7,329.0 1085.2,328.8 1085.8,328.7 1086.3,328.6 1086.9,328.4 1087.4,328.3 1088.0,328.1 1088.5,327.9 1089.1,327.8 1089.6,327.7 1090.1,327.5 1090.7,327.4 1091.2,327.2 1091.7,327.1 1092.2,327.0 1092.8,326.8 1093.3,326.7 1093.8,326.6 1094.3,326.4 1094.8,326.3 1095.4,326.1 1095.9,326.0 1096.4,325.8 1096.9,325.7 1097.4,325.5 1097.9,325.3 1098.4,325.1 1098.9,324.9 1099.4,324.7 1099.9,324.5 1100.4,324.3 1100.8,324.0 1101.3,323.8 1101.8,323.5 1102.3,323.2 1102.8,322.9 1103.3,322.6 1103.7,322.3 1104.2,322.0 1104.7,321.7 1105.1,321.4 1105.6,321.1 1106.0,320.8 1106.5,320.5 1106.9,320.2 1107.4,319.9 1107.8,319.6 1108.3,319.3 1108.7,319.1 1109.1,318.8 1109.6,318.5 1110.0,318.3 1110.4,318.0 1110.8,317.8 1111.2,317.5 1111.6,317.2 1112.0,317.0 1112.5,316.7 1112.8,316.4 1113.2,316.2 1113.6,315.9 1114.0,315.6 1114.4,315.3 1114.8,315.0 1115.2,314.7 1115.6,314.4 1115.9,314.0 1116.3,313.7 1116.7,313.4 1117.0,313.1 1117.4,312.7 1117.7,312.4 1118.1,312.0 1118.5,311.7 1118.8,311.3 1119.1,311.0 1119.5,310.6 1119.8,310.2 1120.2,309.8 1120.5,309.5 1120.8,309.1 1121.2,308.7 1121.5,308.2 1121.8,307.8 1122.1,307.4 1122.4,306.9 1122.8,306.4 1123.1,305.9 1123.4,305.5 1123.6,305.0 1123.9,304.5 1124.2,304.0 1124.5,303.6 1124.8,303.1 1125.0,302.6 1125.3,302.2 1125.5,301.7 1125.8,301.3 1126.0,300.9 1126.3,300.5 1126.5,300.1 1126.8,299.7 1127.0,299.3 1127.2,298.9 1127.4,298.5 1127.6,298.1 1127.9,297.6 1128.1,297.2 1128.3,296.8 1128.5,296.3 1128.7,295.9 1128.9,295.4 1129.1,294.9 1129.2,294.4 1129.4,293.9 1129.6,293.3 1129.8,292.8 1130.0,292.2 1130.1,291.6 1130.3,291.0 1130.5,290.5 1130.6,289.9 1130.8,289.3 1130.9,288.7 1131.1,288.2 1131.2,287.6 1131.4,287.1 1131.5,286.6 1131.7,286.0 1131.8,285.5 1131.9,284.9 1132.1,284.4 1132.2,283.8 1132.3,283.2 1132.5,282.6 1132.6,282.1 1132.7,281.4 1132.8,280.8 1132.9,280.2 1133.0,279.6 1133.2,278.9 1133.3,278.2 1133.4,277.6 1133.5,276.8 1133.6,276.1 1133.7,275.3 1133.8,274.5 1133.9,273.7 1134.0,272.9 1134.1,271.9 1134.1,271.0 1134.2,269.9 1134.3,268.9 1134.4,267.8 1134.5,266.6 1134.6,265.5 1134.7,264.3 1134.7,263.2 1135.1,374.4 1134.8,358.6 1134.9,342.7 1135.1,326.9 1134.8,311.1 1134.9,295.3 1135.1,279.5" marker-start="url(#m5)" marker-mid="url(#m5)" marker-end="url(#m5)"/>
</g>
<path d="M675.95 378.00v4.6M767.83 378.00v4.6M859.71 378.00v4.6M951.59 378.00v4.6M1043.47 378.00v4.6M1135.35 378.00v4.6M671.40 378.00h-4.6M671.40 319.75h-4.6M671.40 261.50h-4.6M671.40 203.25h-4.6M671.40 145.00h-4.6M671.40 86.75h-4.6M671.40 28.50h-4.6" stroke="#000" stroke-width="1.05" fill="none"/>
<rect x="671.40" y="28.50" width="468.45" height="349.50" fill="none" stroke="#000" stroke-width="1.05"/>
<g font-size="13.1px">
<text x="676.05" y="397.1" text-anchor="middle">0.0</text>
<text x="767.93" y="397.1" text-anchor="middle">0.2</text>
<text x="859.81" y="397.1" text-anchor="middle">0.4</text>
<text x="951.69" y="397.1" text-anchor="middle">0.6</text>
<text x="1043.57" y="397.1" text-anchor="middle">0.8</text>
<text x="1135.45" y="397.1" text-anchor="middle">1.0</text>
<text x="661.90" y="383.10" text-anchor="end">0.000</text>
<text x="661.90" y="324.85" text-anchor="end">0.002</text>
<text x="661.90" y="266.60" text-anchor="end">0.004</text>
<text x="661.90" y="208.35" text-anchor="end">0.006</text>
<text x="661.90" y="150.10" text-anchor="end">0.008</text>
<text x="661.90" y="91.85" text-anchor="end">0.010</text>
<text x="661.90" y="33.60" text-anchor="end">0.012</text>
<text x="905.62" y="415" text-anchor="middle">x</text>
<text transform="translate(617.40 203.85) rotate(-90)" text-anchor="middle">Cf</text>
</g>
<text y="20.7" font-size="15.90px"><tspan x="801.7 810.7 820.3 835.6 840.2 844.8 855.6 859.3 869.6 873.7 879.9 890.5 902.6 907.3 917.8 927.3 937.1 947.0 953.4 958.6">Family 1 (2D quad), </tspan><tspan font-style="italic" x="963.2">α</tspan><tspan x="973.9 976.1 988.9 992.5"> = 5</tspan><tspan font-style="italic" font-size="11.13px" x="1003.5" dy="-6.8">o</tspan></text>
<rect x="1070.10" y="35.30" width="63.00" height="118.80" rx="2.8" ry="2.8" fill="#fff" fill-opacity="0.8" stroke="#ccc" stroke-opacity="0.8" stroke-width="1.1"/>
<path d="M1086.35 43.65h4.70l-2.35 4.70z" fill="#1f77b4"/>
<text x="1112.40" y="50.60" font-size="13.1px">L1</text>
<path d="M1086.35 62.85h4.70l-2.35 4.70z" fill="#ff7f0e"/>
<text x="1112.40" y="69.80" font-size="13.1px">L2</text>
<path d="M1086.35 82.05h4.70l-2.35 4.70z" fill="#2ca02c"/>
<text x="1112.40" y="89.00" font-size="13.1px">L3</text>
<path d="M1086.35 101.25h4.70l-2.35 4.70z" fill="#d62728"/>
<text x="1112.40" y="108.20" font-size="13.1px">L4</text>
<path d="M1086.35 120.45h4.70l-2.35 4.70z" fill="#9467bd"/>
<text x="1112.40" y="127.40" font-size="13.1px">L5</text>
<path d="M1086.35 139.65h4.70l-2.35 4.70z" fill="#8c564b"/>
<text x="1112.40" y="146.60" font-size="13.1px">L6</text>
</svg></body></html>
